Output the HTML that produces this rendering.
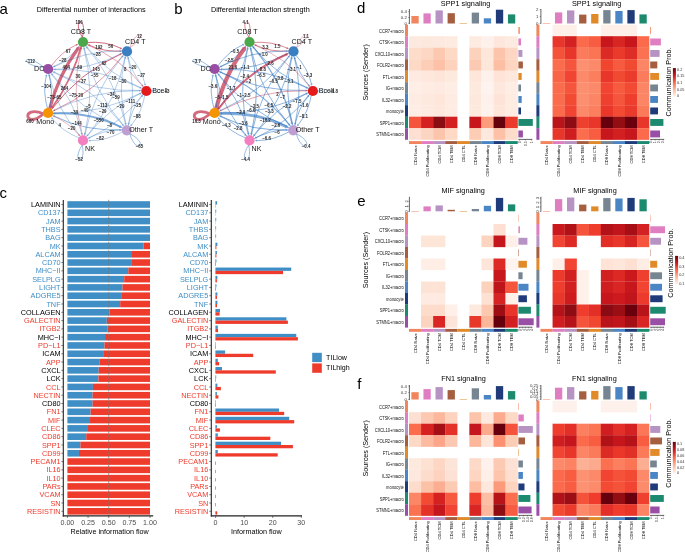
<!DOCTYPE html>
<html><head><meta charset="utf-8"><style>
html,body{margin:0;padding:0;background:#fff;width:685px;height:552px;overflow:hidden}
svg{display:block;font-family:"Liberation Sans", sans-serif;will-change:transform}
</style></head><body>
<svg width="685" height="552" viewBox="0 0 685 552">
<rect width="685" height="552" fill="#fff"/>
<text x="-0.50" y="13.60" font-size="15" fill="#000" text-anchor="start" >a</text>
<text x="174.20" y="13.60" font-size="15" fill="#000" text-anchor="start" >b</text>
<text x="-0.60" y="197.90" font-size="15" fill="#000" text-anchor="start" >c</text>
<text x="357.00" y="12.90" font-size="15" fill="#000" text-anchor="start" >d</text>
<text x="357.20" y="205.50" font-size="15" fill="#000" text-anchor="start" >e</text>
<text x="357.20" y="389.00" font-size="15" fill="#000" text-anchor="start" >f</text>
<path d="M85.5,42.5 Q106.2,41.0 120.6,48.2" fill="none" stroke="rgba(190,35,65,0.68)" stroke-width="1.0"/>
<path d="M122.2,49.0 L119.7,49.2 L120.9,46.9Z" fill="rgba(190,35,65,0.68)"/>
<path d="M85.0,43.6 Q121.1,58.3 142.1,85.5" fill="none" stroke="rgba(190,35,65,0.68)" stroke-width="0.6"/>
<path d="M143.1,86.7 L141.1,85.9 L142.8,84.6Z" fill="rgba(190,35,65,0.68)"/>
<path d="M84.1,44.3 Q116.4,80.5 125.4,123.5" fill="none" stroke="rgba(40,112,192,0.58)" stroke-width="0.6"/>
<path d="M125.7,125.0 L124.3,123.4 L126.4,123.0Z" fill="rgba(40,112,192,0.58)"/>
<path d="M83.0,44.5 Q95.8,91.2 84.8,133.7" fill="none" stroke="rgba(40,112,192,0.58)" stroke-width="0.6"/>
<path d="M84.4,135.2 L83.8,133.1 L85.9,133.6Z" fill="rgba(40,112,192,0.58)"/>
<path d="M81.9,44.3 Q71.9,80.7 52.5,106.9" fill="none" stroke="rgba(190,35,65,0.68)" stroke-width="1.7"/>
<path d="M51.2,108.7 L51.4,105.7 L54.0,107.6Z" fill="rgba(190,35,65,0.68)"/>
<path d="M81.0,43.6 Q69.1,60.0 54.5,66.3" fill="none" stroke="rgba(40,112,192,0.58)" stroke-width="0.6"/>
<path d="M53.1,66.9 L54.4,65.2 L55.2,67.1Z" fill="rgba(40,112,192,0.58)"/>
<path d="M124.5,50.9 Q103.8,52.4 89.4,45.2" fill="none" stroke="rgba(190,35,65,0.68)" stroke-width="0.9"/>
<path d="M87.8,44.4 L90.2,44.3 L89.1,46.4Z" fill="rgba(190,35,65,0.68)"/>
<path d="M128.1,53.7 Q141.8,68.7 145.0,84.2" fill="none" stroke="rgba(40,112,192,0.58)" stroke-width="0.6"/>
<path d="M145.3,85.7 L143.9,84.1 L146.0,83.7Z" fill="rgba(40,112,192,0.58)"/>
<path d="M127.0,53.9 Q137.2,90.9 128.6,123.6" fill="none" stroke="rgba(40,112,192,0.58)" stroke-width="0.6"/>
<path d="M128.2,125.1 L127.6,123.0 L129.7,123.6Z" fill="rgba(40,112,192,0.58)"/>
<path d="M125.9,53.7 Q116.6,101.6 87.6,135.1" fill="none" stroke="rgba(40,112,192,0.58)" stroke-width="0.6"/>
<path d="M86.5,136.3 L86.9,134.2 L88.6,135.6Z" fill="rgba(40,112,192,0.58)"/>
<path d="M125.0,53.0 Q95.5,92.5 54.4,110.2" fill="none" stroke="rgba(190,35,65,0.68)" stroke-width="0.7"/>
<path d="M53.0,110.9 L54.3,109.1 L55.2,111.1Z" fill="rgba(190,35,65,0.68)"/>
<path d="M124.5,52.0 Q89.8,70.5 55.1,69.2" fill="none" stroke="rgba(40,112,192,0.58)" stroke-width="0.6"/>
<path d="M53.5,69.2 L55.4,68.2 L55.3,70.3Z" fill="rgba(40,112,192,0.58)"/>
<path d="M144.4,89.4 Q108.3,74.7 87.3,47.5" fill="none" stroke="rgba(40,112,192,0.58)" stroke-width="0.6"/>
<path d="M86.3,46.3 L88.3,47.1 L86.6,48.4Z" fill="rgba(40,112,192,0.58)"/>
<path d="M145.3,88.7 Q131.6,73.7 128.4,58.2" fill="none" stroke="rgba(40,112,192,0.58)" stroke-width="0.6"/>
<path d="M128.1,56.7 L129.5,58.3 L127.4,58.7Z" fill="rgba(40,112,192,0.58)"/>
<path d="M145.3,93.3 Q141.7,113.2 131.4,125.1" fill="none" stroke="rgba(40,112,192,0.58)" stroke-width="0.6"/>
<path d="M130.3,126.2 L130.8,124.1 L132.4,125.5Z" fill="rgba(40,112,192,0.58)"/>
<path d="M144.4,92.6 Q121.1,123.9 89.4,137.6" fill="none" stroke="rgba(40,112,192,0.58)" stroke-width="0.6"/>
<path d="M88.0,138.3 L89.2,136.5 L90.1,138.5Z" fill="rgba(40,112,192,0.58)"/>
<path d="M143.9,91.6 Q100.1,114.8 55.0,113.2" fill="none" stroke="rgba(40,112,192,0.58)" stroke-width="0.6"/>
<path d="M53.4,113.2 L55.3,112.2 L55.2,114.3Z" fill="rgba(40,112,192,0.58)"/>
<path d="M143.9,90.4 Q94.4,92.8 54.3,72.2" fill="none" stroke="rgba(40,112,192,0.58)" stroke-width="0.6"/>
<path d="M52.9,71.5 L55.0,71.4 L54.1,73.3Z" fill="rgba(40,112,192,0.58)"/>
<path d="M125.7,128.0 Q93.4,91.8 84.4,48.8" fill="none" stroke="rgba(40,112,192,0.58)" stroke-width="0.6"/>
<path d="M84.1,47.3 L85.5,48.9 L83.4,49.3Z" fill="rgba(40,112,192,0.58)"/>
<path d="M126.8,127.8 Q116.6,90.8 125.2,58.1" fill="none" stroke="rgba(40,112,192,0.58)" stroke-width="0.6"/>
<path d="M125.6,56.6 L126.2,58.7 L124.1,58.1Z" fill="rgba(40,112,192,0.58)"/>
<path d="M127.9,128.0 Q131.5,108.1 141.8,96.2" fill="none" stroke="rgba(40,112,192,0.58)" stroke-width="0.6"/>
<path d="M142.9,95.1 L142.4,97.2 L140.8,95.8Z" fill="rgba(40,112,192,0.58)"/>
<path d="M124.3,130.9 Q106.2,141.0 90.0,140.6" fill="none" stroke="rgba(40,112,192,0.58)" stroke-width="0.6"/>
<path d="M88.4,140.5 L90.3,139.5 L90.2,141.7Z" fill="rgba(40,112,192,0.58)"/>
<path d="M124.3,129.8 Q85.2,131.9 54.4,116.2" fill="none" stroke="rgba(40,112,192,0.58)" stroke-width="0.9"/>
<path d="M52.8,115.4 L55.2,115.3 L54.1,117.4Z" fill="rgba(40,112,192,0.58)"/>
<path d="M124.8,128.7 Q79.5,109.9 52.3,74.5" fill="none" stroke="rgba(40,112,192,0.58)" stroke-width="0.6"/>
<path d="M51.4,73.3 L53.4,74.1 L51.7,75.4Z" fill="rgba(40,112,192,0.58)"/>
<path d="M83.0,137.8 Q70.2,91.2 81.3,48.7" fill="none" stroke="rgba(190,35,65,0.68)" stroke-width="0.5"/>
<path d="M81.6,47.2 L82.2,49.2 L80.2,48.7Z" fill="rgba(190,35,65,0.68)"/>
<path d="M84.1,138.1 Q93.4,90.2 122.4,56.7" fill="none" stroke="rgba(40,112,192,0.58)" stroke-width="0.6"/>
<path d="M123.5,55.5 L123.1,57.6 L121.4,56.2Z" fill="rgba(40,112,192,0.58)"/>
<path d="M85.0,138.8 Q108.3,107.5 140.0,93.8" fill="none" stroke="rgba(40,112,192,0.58)" stroke-width="0.6"/>
<path d="M141.4,93.1 L140.2,94.9 L139.3,92.9Z" fill="rgba(40,112,192,0.58)"/>
<path d="M85.5,139.8 Q103.6,129.7 119.8,130.1" fill="none" stroke="rgba(40,112,192,0.58)" stroke-width="0.6"/>
<path d="M121.4,130.2 L119.5,131.2 L119.6,129.0Z" fill="rgba(40,112,192,0.58)"/>
<path d="M81.0,138.8 Q61.9,131.2 52.2,118.5" fill="none" stroke="rgba(40,112,192,0.58)" stroke-width="0.6"/>
<path d="M51.3,117.3 L53.3,118.1 L51.6,119.4Z" fill="rgba(40,112,192,0.58)"/>
<path d="M81.9,138.1 Q56.3,109.2 49.5,75.8" fill="none" stroke="rgba(40,112,192,0.58)" stroke-width="0.6"/>
<path d="M49.2,74.3 L50.6,75.9 L48.5,76.3Z" fill="rgba(40,112,192,0.58)"/>
<path d="M49.1,110.7 Q58.8,74.2 77.9,48.8" fill="none" stroke="rgba(190,35,65,0.68)" stroke-width="3.1"/>
<path d="M79.8,46.3 L79.5,50.3 L76.0,47.7Z" fill="rgba(190,35,65,0.68)"/>
<path d="M50.0,111.4 Q79.5,71.9 120.4,54.3" fill="none" stroke="rgba(190,35,65,0.68)" stroke-width="1.0"/>
<path d="M122.0,53.5 L120.6,55.5 L119.6,53.2Z" fill="rgba(190,35,65,0.68)"/>
<path d="M50.5,112.4 Q94.3,89.2 139.4,90.8" fill="none" stroke="rgba(40,112,192,0.58)" stroke-width="0.6"/>
<path d="M141.0,90.8 L139.1,91.8 L139.2,89.7Z" fill="rgba(40,112,192,0.58)"/>
<path d="M50.5,113.5 Q89.6,111.4 120.0,126.8" fill="none" stroke="rgba(40,112,192,0.58)" stroke-width="1.8"/>
<path d="M122.0,127.9 L119.0,128.1 L120.4,125.2Z" fill="rgba(40,112,192,0.58)"/>
<path d="M50.0,114.6 Q69.1,122.2 78.8,134.9" fill="none" stroke="rgba(190,35,65,0.68)" stroke-width="0.5"/>
<path d="M79.7,136.1 L77.8,135.3 L79.4,134.1Z" fill="rgba(190,35,65,0.68)"/>
<path d="M48.0,110.5 Q42.3,91.0 46.3,75.9" fill="none" stroke="rgba(40,112,192,0.58)" stroke-width="0.9"/>
<path d="M46.7,74.2 L47.4,76.5 L45.0,75.9Z" fill="rgba(40,112,192,0.58)"/>
<path d="M50.1,67.4 Q62.0,51.0 76.5,44.8" fill="none" stroke="rgba(190,35,65,0.68)" stroke-width="0.7"/>
<path d="M78.0,44.1 L76.7,45.9 L75.8,43.9Z" fill="rgba(190,35,65,0.68)"/>
<path d="M50.6,68.4 Q85.3,49.9 120.0,51.2" fill="none" stroke="rgba(40,112,192,0.58)" stroke-width="0.6"/>
<path d="M121.6,51.2 L119.7,52.2 L119.8,50.1Z" fill="rgba(40,112,192,0.58)"/>
<path d="M50.6,69.6 Q100.1,67.2 140.2,87.8" fill="none" stroke="rgba(40,112,192,0.58)" stroke-width="0.6"/>
<path d="M141.6,88.5 L139.5,88.6 L140.4,86.7Z" fill="rgba(40,112,192,0.58)"/>
<path d="M50.1,70.6 Q95.4,89.4 122.6,124.8" fill="none" stroke="rgba(40,112,192,0.58)" stroke-width="0.6"/>
<path d="M123.5,126.0 L121.5,125.2 L123.2,123.9Z" fill="rgba(40,112,192,0.58)"/>
<path d="M49.2,71.3 Q74.8,100.2 81.6,133.6" fill="none" stroke="rgba(40,112,192,0.58)" stroke-width="0.6"/>
<path d="M81.9,135.1 L80.5,133.5 L82.6,133.1Z" fill="rgba(40,112,192,0.58)"/>
<path d="M48.1,71.5 Q53.8,91.0 49.8,106.1" fill="none" stroke="rgba(40,112,192,0.58)" stroke-width="0.9"/>
<path d="M49.4,107.8 L48.7,105.5 L51.1,106.1Z" fill="rgba(40,112,192,0.58)"/>
<path d="M82.4,37.4 C70.9,17.6 87.9,15.3 82.4,37.4" fill="none" stroke="rgba(190,35,65,0.68)" stroke-width="1.0"/>
<path d="M129.8,47.8 C137.7,26.2 148.9,34.9 129.8,47.8" fill="none" stroke="rgba(190,35,65,0.68)" stroke-width="0.5"/>
<path d="M43.5,113.8 C24.9,130.5 20.3,104.4 43.5,113.8" fill="none" stroke="rgba(190,35,65,0.68)" stroke-width="2.8"/>
<path d="M43.8,67.3 C17.6,65.0 23.4,50.7 43.8,67.3" fill="none" stroke="rgba(40,112,192,0.58)" stroke-width="0.8"/>
<path d="M151.0,91.0 C163.5,84.9 163.5,97.1 151.0,91.0" fill="none" stroke="rgba(40,112,192,0.58)" stroke-width="0.5"/>
<path d="M82.2,144.9 C86.8,166.6 70.5,163.7 82.2,144.9" fill="none" stroke="rgba(40,112,192,0.58)" stroke-width="0.8"/>
<path d="M129.8,133.8 C150.0,143.7 136.0,155.4 129.8,133.8" fill="none" stroke="rgba(40,112,192,0.58)" stroke-width="0.8"/>
<circle cx="83.0" cy="42.0" r="5.1" fill="#4aa84a"/>
<circle cx="127.0" cy="51.4" r="5.1" fill="#3a7fc1"/>
<circle cx="146.4" cy="91.0" r="5.1" fill="#e41a1c"/>
<circle cx="126.8" cy="130.3" r="5.1" fill="#bf9fd2"/>
<circle cx="83.0" cy="140.4" r="5.1" fill="#f37fc0"/>
<circle cx="48.0" cy="113.0" r="5.1" fill="#f39400"/>
<circle cx="48.1" cy="69.0" r="5.1" fill="#984ea3"/>
<text transform="translate(68.3,52.5) scale(0.9,1)" font-size="4.9" font-weight="bold" fill="#2a2a2a" text-anchor="middle">67</text>
<text transform="translate(62.7,62.1) scale(0.9,1)" font-size="4.9" font-weight="bold" fill="#2a2a2a" text-anchor="middle">−28</text>
<text transform="translate(66.3,68.5) scale(0.9,1)" font-size="4.9" font-weight="bold" fill="#2a2a2a" text-anchor="middle">404</text>
<text transform="translate(78.5,68.5) scale(0.9,1)" font-size="4.9" font-weight="bold" fill="#2a2a2a" text-anchor="middle">−69</text>
<text transform="translate(78.0,78.0) scale(0.9,1)" font-size="4.9" font-weight="bold" fill="#2a2a2a" text-anchor="middle">30</text>
<text transform="translate(82.1,83.2) scale(0.9,1)" font-size="4.9" font-weight="bold" fill="#2a2a2a" text-anchor="middle">−37</text>
<text transform="translate(46.3,87.8) scale(0.9,1)" font-size="4.9" font-weight="bold" fill="#2a2a2a" text-anchor="middle">−104</text>
<text transform="translate(64.5,90.0) scale(0.9,1)" font-size="4.9" font-weight="bold" fill="#2a2a2a" text-anchor="middle">264</text>
<text transform="translate(50.9,99.0) scale(0.9,1)" font-size="4.9" font-weight="bold" fill="#2a2a2a" text-anchor="middle">−73</text>
<text transform="translate(57.6,99.0) scale(0.9,1)" font-size="4.9" font-weight="bold" fill="#2a2a2a" text-anchor="middle">−65</text>
<text transform="translate(72.9,97.0) scale(0.9,1)" font-size="4.9" font-weight="bold" fill="#2a2a2a" text-anchor="middle">−75</text>
<text transform="translate(79.5,97.0) scale(0.9,1)" font-size="4.9" font-weight="bold" fill="#2a2a2a" text-anchor="middle">−20</text>
<text transform="translate(88.2,107.7) scale(0.9,1)" font-size="4.9" font-weight="bold" fill="#2a2a2a" text-anchor="middle">−5</text>
<text transform="translate(84.6,111.8) scale(0.9,1)" font-size="4.9" font-weight="bold" fill="#2a2a2a" text-anchor="middle">−40</text>
<text transform="translate(74.4,113.8) scale(0.9,1)" font-size="4.9" font-weight="bold" fill="#2a2a2a" text-anchor="middle">−30</text>
<text transform="translate(76.8,125.2) scale(0.9,1)" font-size="4.9" font-weight="bold" fill="#2a2a2a" text-anchor="middle">−144</text>
<text transform="translate(71.6,130.3) scale(0.9,1)" font-size="4.9" font-weight="bold" fill="#2a2a2a" text-anchor="middle">−20</text>
<text transform="translate(59.8,126.5) scale(0.9,1)" font-size="4.9" font-weight="bold" fill="#2a2a2a" text-anchor="middle">4</text>
<text transform="translate(98.9,49.0) scale(0.9,1)" font-size="4.9" font-weight="bold" fill="#2a2a2a" text-anchor="middle">192</text>
<text transform="translate(110.8,47.9) scale(0.9,1)" font-size="4.9" font-weight="bold" fill="#2a2a2a" text-anchor="middle">56</text>
<text transform="translate(96.9,56.0) scale(0.9,1)" font-size="4.9" font-weight="bold" fill="#2a2a2a" text-anchor="middle">−28</text>
<text transform="translate(104.1,65.2) scale(0.9,1)" font-size="4.9" font-weight="bold" fill="#2a2a2a" text-anchor="middle">62</text>
<text transform="translate(96.3,71.3) scale(0.9,1)" font-size="4.9" font-weight="bold" fill="#2a2a2a" text-anchor="middle">145</text>
<text transform="translate(94.6,77.0) scale(0.9,1)" font-size="4.9" font-weight="bold" fill="#2a2a2a" text-anchor="middle">−55</text>
<text transform="translate(125.2,71.3) scale(0.9,1)" font-size="4.9" font-weight="bold" fill="#2a2a2a" text-anchor="middle">8</text>
<text transform="translate(132.6,68.8) scale(0.9,1)" font-size="4.9" font-weight="bold" fill="#2a2a2a" text-anchor="middle">−20</text>
<text transform="translate(141.3,77.0) scale(0.9,1)" font-size="4.9" font-weight="bold" fill="#2a2a2a" text-anchor="middle">−27</text>
<text transform="translate(112.7,80.2) scale(0.9,1)" font-size="4.9" font-weight="bold" fill="#2a2a2a" text-anchor="middle">−18</text>
<text transform="translate(122.7,82.7) scale(0.9,1)" font-size="4.9" font-weight="bold" fill="#2a2a2a" text-anchor="middle">−30</text>
<text transform="translate(110.9,96.0) scale(0.9,1)" font-size="4.9" font-weight="bold" fill="#2a2a2a" text-anchor="middle">−34</text>
<text transform="translate(116.0,99.0) scale(0.9,1)" font-size="4.9" font-weight="bold" fill="#2a2a2a" text-anchor="middle">−59</text>
<text transform="translate(130.5,103.2) scale(0.9,1)" font-size="4.9" font-weight="bold" fill="#2a2a2a" text-anchor="middle">−111</text>
<text transform="translate(137.5,107.2) scale(0.9,1)" font-size="4.9" font-weight="bold" fill="#2a2a2a" text-anchor="middle">−25</text>
<text transform="translate(102.3,107.2) scale(0.9,1)" font-size="4.9" font-weight="bold" fill="#2a2a2a" text-anchor="middle">−113</text>
<text transform="translate(120.6,108.0) scale(0.9,1)" font-size="4.9" font-weight="bold" fill="#2a2a2a" text-anchor="middle">−29</text>
<text transform="translate(102.8,113.3) scale(0.9,1)" font-size="4.9" font-weight="bold" fill="#2a2a2a" text-anchor="middle">−29</text>
<text transform="translate(98.7,122.0) scale(0.9,1)" font-size="4.9" font-weight="bold" fill="#2a2a2a" text-anchor="middle">−550</text>
<text transform="translate(109.4,127.2) scale(0.9,1)" font-size="4.9" font-weight="bold" fill="#2a2a2a" text-anchor="middle">−8</text>
<text transform="translate(110.6,133.8) scale(0.9,1)" font-size="4.9" font-weight="bold" fill="#2a2a2a" text-anchor="middle">−70</text>
<text transform="translate(100.1,140.4) scale(0.9,1)" font-size="4.9" font-weight="bold" fill="#2a2a2a" text-anchor="middle">−82</text>
<text transform="translate(137.0,118.3) scale(0.9,1)" font-size="4.9" font-weight="bold" fill="#2a2a2a" text-anchor="middle">−88</text>
<text transform="translate(79.1,24.1) scale(0.9,1)" font-size="4.9" font-weight="bold" fill="#2a2a2a" text-anchor="middle">186</text>
<text transform="translate(139.5,37.8) scale(0.9,1)" font-size="4.9" font-weight="bold" fill="#2a2a2a" text-anchor="middle">12</text>
<text transform="translate(30.1,62.5) scale(0.9,1)" font-size="4.9" font-weight="bold" fill="#2a2a2a" text-anchor="middle">−112</text>
<text transform="translate(30.0,123.2) scale(0.9,1)" font-size="4.9" font-weight="bold" fill="#2a2a2a" text-anchor="middle">660</text>
<text transform="translate(79.1,161.4) scale(0.9,1)" font-size="4.9" font-weight="bold" fill="#2a2a2a" text-anchor="middle">−52</text>
<text transform="translate(139.5,148.1) scale(0.9,1)" font-size="4.9" font-weight="bold" fill="#2a2a2a" text-anchor="middle">−65</text>
<text transform="translate(167.0,93.0) scale(0.9,1)" font-size="4.9" font-weight="bold" fill="#2a2a2a" text-anchor="middle">−3</text>
<text transform="translate(81.0,34.2) scale(0.89,1)" font-size="8" fill="#111" text-anchor="middle">CD8 T</text>
<text transform="translate(125.1,43.9) scale(0.89,1)" font-size="8" fill="#111" text-anchor="start">CD4 T</text>
<text transform="translate(34.1,71.3) scale(0.89,1)" font-size="8" fill="#111" text-anchor="start">DC</text>
<text transform="translate(152.2,93.4) scale(0.89,1)" font-size="8" fill="#111" text-anchor="start">Bcell</text>
<text transform="translate(36.3,123.9) scale(0.89,1)" font-size="8" fill="#111" text-anchor="start">Mono</text>
<text transform="translate(85.0,151.2) scale(0.89,1)" font-size="8" fill="#111" text-anchor="start">NK</text>
<text transform="translate(129.2,132.4) scale(0.89,1)" font-size="8" fill="#111" text-anchor="start">Other T</text>
<text x="91.2" y="12.1" font-size="7.3" fill="#000" text-anchor="middle">Differential number of interactions</text>
<path d="M252.0,42.5 Q272.7,41.0 287.2,48.2" fill="none" stroke="rgba(190,35,65,0.68)" stroke-width="0.8"/>
<path d="M288.7,49.0 L286.4,49.1 L287.4,47.1Z" fill="rgba(190,35,65,0.68)"/>
<path d="M251.5,43.6 Q287.6,58.3 308.7,85.5" fill="none" stroke="rgba(190,35,65,0.68)" stroke-width="0.5"/>
<path d="M309.6,86.7 L307.7,85.9 L309.3,84.7Z" fill="rgba(190,35,65,0.68)"/>
<path d="M250.6,44.3 Q282.9,80.5 291.8,123.1" fill="none" stroke="rgba(40,112,192,0.58)" stroke-width="1.3"/>
<path d="M292.2,125.0 L290.4,123.1 L293.1,122.5Z" fill="rgba(40,112,192,0.58)"/>
<path d="M249.5,44.5 Q262.3,91.2 251.3,133.4" fill="none" stroke="rgba(40,112,192,0.58)" stroke-width="1.0"/>
<path d="M250.9,135.2 L250.2,132.8 L252.6,133.5Z" fill="rgba(40,112,192,0.58)"/>
<path d="M248.4,44.3 Q241.2,82.0 219.1,107.6" fill="none" stroke="rgba(40,112,192,0.58)" stroke-width="0.8"/>
<path d="M218.0,108.9 L218.4,106.7 L220.2,108.2Z" fill="rgba(40,112,192,0.58)"/>
<path d="M247.5,43.6 Q235.6,60.0 221.2,66.2" fill="none" stroke="rgba(40,112,192,0.58)" stroke-width="0.9"/>
<path d="M219.6,66.9 L221.0,65.0 L221.9,67.2Z" fill="rgba(40,112,192,0.58)"/>
<path d="M291.0,50.9 Q270.3,52.4 255.8,45.2" fill="none" stroke="rgba(190,35,65,0.68)" stroke-width="0.8"/>
<path d="M254.3,44.4 L256.6,44.3 L255.6,46.3Z" fill="rgba(190,35,65,0.68)"/>
<path d="M294.6,53.7 Q308.3,68.7 311.5,84.0" fill="none" stroke="rgba(40,112,192,0.58)" stroke-width="0.9"/>
<path d="M311.8,85.7 L310.2,84.0 L312.6,83.5Z" fill="rgba(40,112,192,0.58)"/>
<path d="M293.5,53.9 Q303.7,90.9 295.1,123.4" fill="none" stroke="rgba(40,112,192,0.58)" stroke-width="0.9"/>
<path d="M294.7,125.1 L294.0,122.8 L296.4,123.4Z" fill="rgba(40,112,192,0.58)"/>
<path d="M292.4,53.7 Q283.1,101.6 254.2,135.0" fill="none" stroke="rgba(40,112,192,0.58)" stroke-width="0.9"/>
<path d="M253.0,136.3 L253.5,134.0 L255.3,135.6Z" fill="rgba(40,112,192,0.58)"/>
<path d="M291.5,53.0 Q262.0,92.5 221.0,110.2" fill="none" stroke="rgba(40,112,192,0.58)" stroke-width="0.8"/>
<path d="M219.5,110.9 L220.8,109.0 L221.7,111.1Z" fill="rgba(40,112,192,0.58)"/>
<path d="M291.0,52.0 Q256.3,70.5 221.7,69.2" fill="none" stroke="rgba(40,112,192,0.58)" stroke-width="0.9"/>
<path d="M220.0,69.2 L222.1,68.1 L222.0,70.5Z" fill="rgba(40,112,192,0.58)"/>
<path d="M310.9,89.4 Q274.8,74.7 253.9,47.6" fill="none" stroke="rgba(40,112,192,0.58)" stroke-width="0.9"/>
<path d="M252.8,46.3 L255.0,47.1 L253.1,48.6Z" fill="rgba(40,112,192,0.58)"/>
<path d="M311.8,88.7 Q298.1,73.7 294.9,58.4" fill="none" stroke="rgba(40,112,192,0.58)" stroke-width="0.9"/>
<path d="M294.6,56.7 L296.2,58.4 L293.8,58.9Z" fill="rgba(40,112,192,0.58)"/>
<path d="M311.8,93.3 Q308.2,113.2 298.0,124.9" fill="none" stroke="rgba(40,112,192,0.58)" stroke-width="0.9"/>
<path d="M296.8,126.2 L297.3,123.9 L299.1,125.5Z" fill="rgba(40,112,192,0.58)"/>
<path d="M310.9,92.6 Q287.6,123.9 256.1,137.6" fill="none" stroke="rgba(40,112,192,0.58)" stroke-width="0.9"/>
<path d="M254.5,138.3 L255.9,136.3 L256.8,138.6Z" fill="rgba(40,112,192,0.58)"/>
<path d="M310.4,91.6 Q266.6,114.8 221.6,113.2" fill="none" stroke="rgba(40,112,192,0.58)" stroke-width="0.9"/>
<path d="M219.9,113.2 L222.0,112.1 L221.9,114.5Z" fill="rgba(40,112,192,0.58)"/>
<path d="M310.4,90.4 Q260.9,92.8 221.0,72.3" fill="none" stroke="rgba(40,112,192,0.58)" stroke-width="0.9"/>
<path d="M219.4,71.5 L221.8,71.3 L220.7,73.5Z" fill="rgba(40,112,192,0.58)"/>
<path d="M292.2,128.0 Q259.9,91.8 251.0,49.0" fill="none" stroke="rgba(40,112,192,0.58)" stroke-width="0.9"/>
<path d="M250.6,47.3 L252.2,49.0 L249.8,49.5Z" fill="rgba(40,112,192,0.58)"/>
<path d="M293.3,127.8 Q283.1,90.8 291.7,58.3" fill="none" stroke="rgba(40,112,192,0.58)" stroke-width="0.9"/>
<path d="M292.1,56.6 L292.8,58.9 L290.4,58.3Z" fill="rgba(40,112,192,0.58)"/>
<path d="M294.4,128.0 Q298.0,108.1 308.2,96.4" fill="none" stroke="rgba(40,112,192,0.58)" stroke-width="0.9"/>
<path d="M309.4,95.1 L308.9,97.4 L307.1,95.8Z" fill="rgba(40,112,192,0.58)"/>
<path d="M290.8,130.9 Q272.7,141.0 256.6,140.6" fill="none" stroke="rgba(40,112,192,0.58)" stroke-width="0.9"/>
<path d="M254.9,140.5 L257.0,139.4 L256.9,141.8Z" fill="rgba(40,112,192,0.58)"/>
<path d="M290.8,129.8 Q251.7,131.9 220.9,116.3" fill="none" stroke="rgba(40,112,192,0.58)" stroke-width="1.0"/>
<path d="M219.3,115.4 L221.8,115.3 L220.6,117.5Z" fill="rgba(40,112,192,0.58)"/>
<path d="M291.3,128.7 Q246.0,109.9 218.9,74.7" fill="none" stroke="rgba(40,112,192,0.58)" stroke-width="0.9"/>
<path d="M217.9,73.3 L220.1,74.2 L218.2,75.6Z" fill="rgba(40,112,192,0.58)"/>
<path d="M249.5,137.8 Q236.7,91.2 247.7,48.9" fill="none" stroke="rgba(40,112,192,0.58)" stroke-width="0.9"/>
<path d="M248.1,47.2 L248.8,49.5 L246.5,48.9Z" fill="rgba(40,112,192,0.58)"/>
<path d="M250.6,138.1 Q259.9,90.2 288.8,56.8" fill="none" stroke="rgba(40,112,192,0.58)" stroke-width="0.9"/>
<path d="M290.0,55.5 L289.5,57.8 L287.7,56.2Z" fill="rgba(40,112,192,0.58)"/>
<path d="M251.5,138.8 Q274.8,107.5 306.3,93.8" fill="none" stroke="rgba(40,112,192,0.58)" stroke-width="0.9"/>
<path d="M307.9,93.1 L306.5,95.1 L305.6,92.8Z" fill="rgba(40,112,192,0.58)"/>
<path d="M252.0,139.8 Q270.1,129.7 286.2,130.1" fill="none" stroke="rgba(40,112,192,0.58)" stroke-width="0.9"/>
<path d="M287.9,130.2 L285.8,131.3 L285.9,128.9Z" fill="rgba(40,112,192,0.58)"/>
<path d="M247.5,138.8 Q228.4,131.2 218.8,118.7" fill="none" stroke="rgba(40,112,192,0.58)" stroke-width="0.9"/>
<path d="M217.8,117.3 L220.0,118.2 L218.1,119.6Z" fill="rgba(40,112,192,0.58)"/>
<path d="M248.4,138.1 Q222.8,109.2 216.0,76.0" fill="none" stroke="rgba(40,112,192,0.58)" stroke-width="0.9"/>
<path d="M215.7,74.3 L217.3,76.1 L214.9,76.5Z" fill="rgba(40,112,192,0.58)"/>
<path d="M215.6,110.7 Q224.9,74.0 243.9,49.2" fill="none" stroke="rgba(190,35,65,0.68)" stroke-width="4.2"/>
<path d="M246.2,46.3 L245.9,51.1 L241.6,47.8Z" fill="rgba(190,35,65,0.68)"/>
<path d="M216.5,111.4 Q246.0,71.9 286.3,54.5" fill="none" stroke="rgba(190,35,65,0.68)" stroke-width="2.0"/>
<path d="M288.5,53.5 L286.7,56.2 L285.4,53.1Z" fill="rgba(190,35,65,0.68)"/>
<path d="M217.0,112.4 Q260.8,89.2 305.9,90.8" fill="none" stroke="rgba(190,35,65,0.68)" stroke-width="0.6"/>
<path d="M307.5,90.8 L305.6,91.8 L305.7,89.7Z" fill="rgba(190,35,65,0.68)"/>
<path d="M217.0,113.5 Q256.1,111.4 285.9,126.5" fill="none" stroke="rgba(40,112,192,0.58)" stroke-width="2.8"/>
<path d="M288.5,127.9 L284.7,128.2 L286.6,124.6Z" fill="rgba(40,112,192,0.58)"/>
<path d="M216.5,114.6 Q235.6,122.2 245.2,134.7" fill="none" stroke="rgba(40,112,192,0.58)" stroke-width="0.9"/>
<path d="M246.2,136.1 L244.0,135.2 L245.9,133.8Z" fill="rgba(40,112,192,0.58)"/>
<path d="M214.5,110.5 Q208.8,91.0 212.8,75.9" fill="none" stroke="rgba(40,112,192,0.58)" stroke-width="0.9"/>
<path d="M213.2,74.2 L213.9,76.5 L211.5,75.9Z" fill="rgba(40,112,192,0.58)"/>
<path d="M216.6,67.4 Q228.5,51.0 242.9,44.8" fill="none" stroke="rgba(40,112,192,0.58)" stroke-width="0.9"/>
<path d="M244.5,44.1 L243.1,46.0 L242.2,43.8Z" fill="rgba(40,112,192,0.58)"/>
<path d="M217.1,68.4 Q251.8,49.9 286.4,51.2" fill="none" stroke="rgba(40,112,192,0.58)" stroke-width="0.9"/>
<path d="M288.1,51.2 L286.0,52.3 L286.1,49.9Z" fill="rgba(40,112,192,0.58)"/>
<path d="M217.1,69.6 Q266.6,67.2 306.5,87.7" fill="none" stroke="rgba(40,112,192,0.58)" stroke-width="0.9"/>
<path d="M308.1,88.5 L305.7,88.7 L306.8,86.5Z" fill="rgba(40,112,192,0.58)"/>
<path d="M216.6,70.6 Q261.9,89.4 288.9,124.5" fill="none" stroke="rgba(40,112,192,0.58)" stroke-width="1.1"/>
<path d="M290.0,126.0 L287.7,125.1 L289.7,123.5Z" fill="rgba(40,112,192,0.58)"/>
<path d="M215.7,71.3 Q241.3,100.2 248.1,133.4" fill="none" stroke="rgba(40,112,192,0.58)" stroke-width="0.9"/>
<path d="M248.4,135.1 L246.8,133.3 L249.2,132.9Z" fill="rgba(40,112,192,0.58)"/>
<path d="M214.6,71.5 Q220.3,91.0 216.3,106.1" fill="none" stroke="rgba(40,112,192,0.58)" stroke-width="0.9"/>
<path d="M215.9,107.8 L215.2,105.5 L217.6,106.1Z" fill="rgba(40,112,192,0.58)"/>
<path d="M248.9,37.4 C237.4,17.6 254.4,15.3 248.9,37.4" fill="none" stroke="rgba(190,35,65,0.68)" stroke-width="0.8"/>
<path d="M296.3,47.8 C304.2,26.2 315.4,34.9 296.3,47.8" fill="none" stroke="rgba(190,35,65,0.68)" stroke-width="0.5"/>
<path d="M210.0,113.8 C191.4,130.5 186.8,104.4 210.0,113.8" fill="none" stroke="rgba(190,35,65,0.68)" stroke-width="2.8"/>
<path d="M210.3,67.3 C184.1,65.0 189.9,50.7 210.3,67.3" fill="none" stroke="rgba(40,112,192,0.58)" stroke-width="0.8"/>
<path d="M317.5,91.0 C330.0,84.9 330.0,97.1 317.5,91.0" fill="none" stroke="rgba(40,112,192,0.58)" stroke-width="0.5"/>
<path d="M248.7,144.9 C253.3,166.6 237.0,163.7 248.7,144.9" fill="none" stroke="rgba(40,112,192,0.58)" stroke-width="0.8"/>
<path d="M296.3,133.8 C316.5,143.7 302.5,155.4 296.3,133.8" fill="none" stroke="rgba(40,112,192,0.58)" stroke-width="0.8"/>
<circle cx="249.5" cy="42.0" r="5.1" fill="#4aa84a"/>
<circle cx="293.5" cy="51.4" r="5.1" fill="#3a7fc1"/>
<circle cx="312.9" cy="91.0" r="5.1" fill="#e41a1c"/>
<circle cx="293.3" cy="130.3" r="5.1" fill="#bf9fd2"/>
<circle cx="249.5" cy="140.4" r="5.1" fill="#f37fc0"/>
<circle cx="214.5" cy="113.0" r="5.1" fill="#f39400"/>
<circle cx="214.6" cy="69.0" r="5.1" fill="#984ea3"/>
<text transform="translate(234.8,52.5) scale(0.9,1)" font-size="4.9" font-weight="bold" fill="#2a2a2a" text-anchor="middle">−0.5</text>
<text transform="translate(229.2,62.1) scale(0.9,1)" font-size="4.9" font-weight="bold" fill="#2a2a2a" text-anchor="middle">−2.5</text>
<text transform="translate(232.8,68.5) scale(0.9,1)" font-size="4.9" font-weight="bold" fill="#2a2a2a" text-anchor="middle">21.6</text>
<text transform="translate(245.0,68.5) scale(0.9,1)" font-size="4.9" font-weight="bold" fill="#2a2a2a" text-anchor="middle">−1.1</text>
<text transform="translate(244.5,78.0) scale(0.9,1)" font-size="4.9" font-weight="bold" fill="#2a2a2a" text-anchor="middle">−2.4</text>
<text transform="translate(248.6,83.2) scale(0.9,1)" font-size="4.9" font-weight="bold" fill="#2a2a2a" text-anchor="middle">−2</text>
<text transform="translate(212.8,87.8) scale(0.9,1)" font-size="4.9" font-weight="bold" fill="#2a2a2a" text-anchor="middle">−3.6</text>
<text transform="translate(231.0,90.0) scale(0.9,1)" font-size="4.9" font-weight="bold" fill="#2a2a2a" text-anchor="middle">−1.7</text>
<text transform="translate(217.4,99.0) scale(0.9,1)" font-size="4.9" font-weight="bold" fill="#2a2a2a" text-anchor="middle">−5</text>
<text transform="translate(224.1,99.0) scale(0.9,1)" font-size="4.9" font-weight="bold" fill="#2a2a2a" text-anchor="middle">−1.5</text>
<text transform="translate(239.4,97.0) scale(0.9,1)" font-size="4.9" font-weight="bold" fill="#2a2a2a" text-anchor="middle">−1</text>
<text transform="translate(246.0,97.0) scale(0.9,1)" font-size="4.9" font-weight="bold" fill="#2a2a2a" text-anchor="middle">−2.5</text>
<text transform="translate(254.7,107.7) scale(0.9,1)" font-size="4.9" font-weight="bold" fill="#2a2a2a" text-anchor="middle">−2.5</text>
<text transform="translate(251.1,111.8) scale(0.9,1)" font-size="4.9" font-weight="bold" fill="#2a2a2a" text-anchor="middle">−6.6</text>
<text transform="translate(240.9,113.8) scale(0.9,1)" font-size="4.9" font-weight="bold" fill="#2a2a2a" text-anchor="middle">−2.0</text>
<text transform="translate(243.3,125.2) scale(0.9,1)" font-size="4.9" font-weight="bold" fill="#2a2a2a" text-anchor="middle">−3.6</text>
<text transform="translate(238.1,130.3) scale(0.9,1)" font-size="4.9" font-weight="bold" fill="#2a2a2a" text-anchor="middle">−2.8</text>
<text transform="translate(226.3,126.5) scale(0.9,1)" font-size="4.9" font-weight="bold" fill="#2a2a2a" text-anchor="middle">−4.3</text>
<text transform="translate(265.4,49.0) scale(0.9,1)" font-size="4.9" font-weight="bold" fill="#2a2a2a" text-anchor="middle">3.3</text>
<text transform="translate(277.3,47.9) scale(0.9,1)" font-size="4.9" font-weight="bold" fill="#2a2a2a" text-anchor="middle">1.5</text>
<text transform="translate(263.4,56.0) scale(0.9,1)" font-size="4.9" font-weight="bold" fill="#2a2a2a" text-anchor="middle">−1.0</text>
<text transform="translate(270.6,65.2) scale(0.9,1)" font-size="4.9" font-weight="bold" fill="#2a2a2a" text-anchor="middle">2.6</text>
<text transform="translate(262.8,71.3) scale(0.9,1)" font-size="4.9" font-weight="bold" fill="#2a2a2a" text-anchor="middle">8.8</text>
<text transform="translate(261.1,77.0) scale(0.9,1)" font-size="4.9" font-weight="bold" fill="#2a2a2a" text-anchor="middle">−6.5</text>
<text transform="translate(291.7,71.3) scale(0.9,1)" font-size="4.9" font-weight="bold" fill="#2a2a2a" text-anchor="middle">−3.1</text>
<text transform="translate(299.1,68.8) scale(0.9,1)" font-size="4.9" font-weight="bold" fill="#2a2a2a" text-anchor="middle">−1</text>
<text transform="translate(307.8,77.0) scale(0.9,1)" font-size="4.9" font-weight="bold" fill="#2a2a2a" text-anchor="middle">−3.3</text>
<text transform="translate(279.2,80.2) scale(0.9,1)" font-size="4.9" font-weight="bold" fill="#2a2a2a" text-anchor="middle">−0.8</text>
<text transform="translate(289.2,82.7) scale(0.9,1)" font-size="4.9" font-weight="bold" fill="#2a2a2a" text-anchor="middle">−0.1</text>
<text transform="translate(277.4,96.0) scale(0.9,1)" font-size="4.9" font-weight="bold" fill="#2a2a2a" text-anchor="middle">2</text>
<text transform="translate(282.5,99.0) scale(0.9,1)" font-size="4.9" font-weight="bold" fill="#2a2a2a" text-anchor="middle">−7</text>
<text transform="translate(297.0,103.2) scale(0.9,1)" font-size="4.9" font-weight="bold" fill="#2a2a2a" text-anchor="middle">−7.5</text>
<text transform="translate(304.0,107.2) scale(0.9,1)" font-size="4.9" font-weight="bold" fill="#2a2a2a" text-anchor="middle">−1.6</text>
<text transform="translate(268.8,107.2) scale(0.9,1)" font-size="4.9" font-weight="bold" fill="#2a2a2a" text-anchor="middle">−6.5</text>
<text transform="translate(287.1,108.0) scale(0.9,1)" font-size="4.9" font-weight="bold" fill="#2a2a2a" text-anchor="middle">−2.2</text>
<text transform="translate(269.3,113.3) scale(0.9,1)" font-size="4.9" font-weight="bold" fill="#2a2a2a" text-anchor="middle">−3.3</text>
<text transform="translate(265.2,122.0) scale(0.9,1)" font-size="4.9" font-weight="bold" fill="#2a2a2a" text-anchor="middle">−10.2</text>
<text transform="translate(275.9,127.2) scale(0.9,1)" font-size="4.9" font-weight="bold" fill="#2a2a2a" text-anchor="middle">−2.6</text>
<text transform="translate(277.1,133.8) scale(0.9,1)" font-size="4.9" font-weight="bold" fill="#2a2a2a" text-anchor="middle">−6</text>
<text transform="translate(266.6,140.4) scale(0.9,1)" font-size="4.9" font-weight="bold" fill="#2a2a2a" text-anchor="middle">−6.6</text>
<text transform="translate(303.5,118.3) scale(0.9,1)" font-size="4.9" font-weight="bold" fill="#2a2a2a" text-anchor="middle">−8.1</text>
<text transform="translate(245.6,24.1) scale(0.9,1)" font-size="4.9" font-weight="bold" fill="#2a2a2a" text-anchor="middle">4.1</text>
<text transform="translate(306.0,37.8) scale(0.9,1)" font-size="4.9" font-weight="bold" fill="#2a2a2a" text-anchor="middle">1.1</text>
<text transform="translate(196.6,62.5) scale(0.9,1)" font-size="4.9" font-weight="bold" fill="#2a2a2a" text-anchor="middle">−3.7</text>
<text transform="translate(196.5,123.2) scale(0.9,1)" font-size="4.9" font-weight="bold" fill="#2a2a2a" text-anchor="middle">16.3</text>
<text transform="translate(245.6,161.4) scale(0.9,1)" font-size="4.9" font-weight="bold" fill="#2a2a2a" text-anchor="middle">−4.4</text>
<text transform="translate(306.0,148.1) scale(0.9,1)" font-size="4.9" font-weight="bold" fill="#2a2a2a" text-anchor="middle">−0.4</text>
<text transform="translate(333.5,93.0) scale(0.9,1)" font-size="4.9" font-weight="bold" fill="#2a2a2a" text-anchor="middle">−0.8</text>
<text transform="translate(273.6,82.7) scale(0.9,1)" font-size="4.9" font-weight="bold" fill="#2a2a2a" text-anchor="middle">−0.5</text>
<text transform="translate(247.5,34.2) scale(0.89,1)" font-size="8" fill="#111" text-anchor="middle">CD8 T</text>
<text transform="translate(291.6,43.9) scale(0.89,1)" font-size="8" fill="#111" text-anchor="start">CD4 T</text>
<text transform="translate(200.6,71.3) scale(0.89,1)" font-size="8" fill="#111" text-anchor="start">DC</text>
<text transform="translate(318.7,93.4) scale(0.89,1)" font-size="8" fill="#111" text-anchor="start">Bcell</text>
<text transform="translate(202.8,123.9) scale(0.89,1)" font-size="8" fill="#111" text-anchor="start">Mono</text>
<text transform="translate(251.5,151.2) scale(0.89,1)" font-size="8" fill="#111" text-anchor="start">NK</text>
<text transform="translate(295.7,132.4) scale(0.89,1)" font-size="8" fill="#111" text-anchor="start">Other T</text>
<text x="260.3" y="12.1" font-size="7.3" fill="#000" text-anchor="middle">Differential interaction strength</text>
<rect x="67.40" y="201.20" width="82.60" height="6.60" fill="#3f8ec5" />
<text x="60.60" y="207.10" font-size="7.3" fill="#000" text-anchor="end" >LAMININ</text>
<line x1="61.30" y1="204.50" x2="63.20" y2="204.50" stroke="#333" stroke-width="0.6" />
<rect x="215.40" y="201.20" width="1.70" height="3.30" fill="#3f8ec5" />
<rect x="215.40" y="204.50" width="0.30" height="3.30" fill="#ee3b2c" />
<text x="208.30" y="207.10" font-size="7.3" fill="#000" text-anchor="end" >LAMININ</text>
<line x1="209.20" y1="204.50" x2="211.20" y2="204.50" stroke="#333" stroke-width="0.6" />
<rect x="67.40" y="209.49" width="82.60" height="6.60" fill="#3f8ec5" />
<text x="60.60" y="215.39" font-size="7.3" fill="#3f8ec5" text-anchor="end" >CD137</text>
<line x1="61.30" y1="212.79" x2="63.20" y2="212.79" stroke="#333" stroke-width="0.6" />
<rect x="215.40" y="209.49" width="0.80" height="3.30" fill="#3f8ec5" />
<rect x="215.40" y="212.79" width="0.20" height="3.30" fill="#ee3b2c" />
<text x="208.30" y="215.39" font-size="7.3" fill="#3f8ec5" text-anchor="end" >CD137</text>
<line x1="209.20" y1="212.79" x2="211.20" y2="212.79" stroke="#333" stroke-width="0.6" />
<rect x="67.40" y="217.78" width="82.60" height="6.60" fill="#3f8ec5" />
<text x="60.60" y="223.68" font-size="7.3" fill="#3f8ec5" text-anchor="end" >JAM</text>
<line x1="61.30" y1="221.08" x2="63.20" y2="221.08" stroke="#333" stroke-width="0.6" />
<rect x="215.40" y="217.78" width="0.80" height="3.30" fill="#3f8ec5" />
<rect x="215.40" y="221.08" width="0.20" height="3.30" fill="#ee3b2c" />
<text x="208.30" y="223.68" font-size="7.3" fill="#3f8ec5" text-anchor="end" >JAM</text>
<line x1="209.20" y1="221.08" x2="211.20" y2="221.08" stroke="#333" stroke-width="0.6" />
<rect x="67.40" y="226.08" width="82.60" height="6.60" fill="#3f8ec5" />
<text x="60.60" y="231.98" font-size="7.3" fill="#3f8ec5" text-anchor="end" >THBS</text>
<line x1="61.30" y1="229.38" x2="63.20" y2="229.38" stroke="#333" stroke-width="0.6" />
<rect x="215.40" y="226.08" width="0.70" height="3.30" fill="#3f8ec5" />
<rect x="215.40" y="229.38" width="0.20" height="3.30" fill="#ee3b2c" />
<text x="208.30" y="231.98" font-size="7.3" fill="#3f8ec5" text-anchor="end" >THBS</text>
<line x1="209.20" y1="229.38" x2="211.20" y2="229.38" stroke="#333" stroke-width="0.6" />
<rect x="67.40" y="234.37" width="82.60" height="6.60" fill="#3f8ec5" />
<text x="60.60" y="240.27" font-size="7.3" fill="#3f8ec5" text-anchor="end" >BAG</text>
<line x1="61.30" y1="237.67" x2="63.20" y2="237.67" stroke="#333" stroke-width="0.6" />
<rect x="215.40" y="234.37" width="0.70" height="3.30" fill="#3f8ec5" />
<rect x="215.40" y="237.67" width="0.10" height="3.30" fill="#ee3b2c" />
<text x="208.30" y="240.27" font-size="7.3" fill="#3f8ec5" text-anchor="end" >BAG</text>
<line x1="209.20" y1="237.67" x2="211.20" y2="237.67" stroke="#333" stroke-width="0.6" />
<rect x="67.40" y="242.66" width="76.24" height="6.60" fill="#3f8ec5" />
<rect x="143.64" y="242.66" width="6.36" height="6.60" fill="#ee3b2c" />
<text x="60.60" y="248.56" font-size="7.3" fill="#3f8ec5" text-anchor="end" >MK</text>
<line x1="61.30" y1="245.96" x2="63.20" y2="245.96" stroke="#333" stroke-width="0.6" />
<rect x="215.40" y="242.66" width="2.00" height="3.30" fill="#3f8ec5" />
<rect x="215.40" y="245.96" width="1.00" height="3.30" fill="#ee3b2c" />
<text x="208.30" y="248.56" font-size="7.3" fill="#3f8ec5" text-anchor="end" >MK</text>
<line x1="209.20" y1="245.96" x2="211.20" y2="245.96" stroke="#333" stroke-width="0.6" />
<rect x="67.40" y="250.95" width="64.59" height="6.60" fill="#3f8ec5" />
<rect x="131.99" y="250.95" width="18.01" height="6.60" fill="#ee3b2c" />
<text x="60.60" y="256.85" font-size="7.3" fill="#3f8ec5" text-anchor="end" >ALCAM</text>
<line x1="61.30" y1="254.25" x2="63.20" y2="254.25" stroke="#333" stroke-width="0.6" />
<rect x="215.40" y="250.95" width="1.50" height="3.30" fill="#3f8ec5" />
<rect x="215.40" y="254.25" width="1.00" height="3.30" fill="#ee3b2c" />
<text x="208.30" y="256.85" font-size="7.3" fill="#3f8ec5" text-anchor="end" >ALCAM</text>
<line x1="209.20" y1="254.25" x2="211.20" y2="254.25" stroke="#333" stroke-width="0.6" />
<rect x="67.40" y="259.24" width="63.77" height="6.60" fill="#3f8ec5" />
<rect x="131.17" y="259.24" width="18.83" height="6.60" fill="#ee3b2c" />
<text x="60.60" y="265.14" font-size="7.3" fill="#3f8ec5" text-anchor="end" >CD70</text>
<line x1="61.30" y1="262.54" x2="63.20" y2="262.54" stroke="#333" stroke-width="0.6" />
<rect x="215.40" y="259.24" width="1.00" height="3.30" fill="#3f8ec5" />
<rect x="215.40" y="262.54" width="0.60" height="3.30" fill="#ee3b2c" />
<text x="208.30" y="265.14" font-size="7.3" fill="#3f8ec5" text-anchor="end" >CD70</text>
<line x1="209.20" y1="262.54" x2="211.20" y2="262.54" stroke="#333" stroke-width="0.6" />
<rect x="67.40" y="267.54" width="60.88" height="6.60" fill="#3f8ec5" />
<rect x="128.28" y="267.54" width="21.72" height="6.60" fill="#ee3b2c" />
<text x="60.60" y="273.44" font-size="7.3" fill="#3f8ec5" text-anchor="end" >MHC−II</text>
<line x1="61.30" y1="270.84" x2="63.20" y2="270.84" stroke="#333" stroke-width="0.6" />
<rect x="215.40" y="267.54" width="75.80" height="3.30" fill="#3f8ec5" />
<rect x="215.40" y="270.84" width="67.60" height="3.30" fill="#ee3b2c" />
<text x="208.30" y="273.44" font-size="7.3" fill="#3f8ec5" text-anchor="end" >MHC−II</text>
<line x1="209.20" y1="270.84" x2="211.20" y2="270.84" stroke="#333" stroke-width="0.6" />
<rect x="67.40" y="275.83" width="56.83" height="6.60" fill="#3f8ec5" />
<rect x="124.23" y="275.83" width="25.77" height="6.60" fill="#ee3b2c" />
<text x="60.60" y="281.73" font-size="7.3" fill="#3f8ec5" text-anchor="end" >SELPLG</text>
<line x1="61.30" y1="279.13" x2="63.20" y2="279.13" stroke="#333" stroke-width="0.6" />
<rect x="215.40" y="275.83" width="2.00" height="3.30" fill="#3f8ec5" />
<rect x="215.40" y="279.13" width="1.50" height="3.30" fill="#ee3b2c" />
<text x="208.30" y="281.73" font-size="7.3" fill="#3f8ec5" text-anchor="end" >SELPLG</text>
<line x1="209.20" y1="279.13" x2="211.20" y2="279.13" stroke="#333" stroke-width="0.6" />
<rect x="67.40" y="284.12" width="55.09" height="6.60" fill="#3f8ec5" />
<rect x="122.49" y="284.12" width="27.51" height="6.60" fill="#ee3b2c" />
<text x="60.60" y="290.02" font-size="7.3" fill="#3f8ec5" text-anchor="end" >LIGHT</text>
<line x1="61.30" y1="287.42" x2="63.20" y2="287.42" stroke="#333" stroke-width="0.6" />
<rect x="215.40" y="284.12" width="1.00" height="3.30" fill="#3f8ec5" />
<rect x="215.40" y="287.42" width="0.60" height="3.30" fill="#ee3b2c" />
<text x="208.30" y="290.02" font-size="7.3" fill="#3f8ec5" text-anchor="end" >LIGHT</text>
<line x1="209.20" y1="287.42" x2="211.20" y2="287.42" stroke="#333" stroke-width="0.6" />
<rect x="67.40" y="292.41" width="54.52" height="6.60" fill="#3f8ec5" />
<rect x="121.92" y="292.41" width="28.08" height="6.60" fill="#ee3b2c" />
<text x="60.60" y="298.31" font-size="7.3" fill="#3f8ec5" text-anchor="end" >ADGRE5</text>
<line x1="61.30" y1="295.71" x2="63.20" y2="295.71" stroke="#333" stroke-width="0.6" />
<rect x="215.40" y="292.41" width="2.00" height="3.30" fill="#3f8ec5" />
<rect x="215.40" y="295.71" width="1.60" height="3.30" fill="#ee3b2c" />
<text x="208.30" y="298.31" font-size="7.3" fill="#3f8ec5" text-anchor="end" >ADGRE5</text>
<line x1="209.20" y1="295.71" x2="211.20" y2="295.71" stroke="#333" stroke-width="0.6" />
<rect x="67.40" y="300.70" width="52.78" height="6.60" fill="#3f8ec5" />
<rect x="120.18" y="300.70" width="29.82" height="6.60" fill="#ee3b2c" />
<text x="60.60" y="306.60" font-size="7.3" fill="#3f8ec5" text-anchor="end" >TNF</text>
<line x1="61.30" y1="304.00" x2="63.20" y2="304.00" stroke="#333" stroke-width="0.6" />
<rect x="215.40" y="300.70" width="2.00" height="3.30" fill="#3f8ec5" />
<rect x="215.40" y="304.00" width="1.60" height="3.30" fill="#ee3b2c" />
<text x="208.30" y="306.60" font-size="7.3" fill="#3f8ec5" text-anchor="end" >TNF</text>
<line x1="209.20" y1="304.00" x2="211.20" y2="304.00" stroke="#333" stroke-width="0.6" />
<rect x="67.40" y="309.00" width="42.29" height="6.60" fill="#3f8ec5" />
<rect x="109.69" y="309.00" width="40.31" height="6.60" fill="#ee3b2c" />
<text x="60.60" y="314.90" font-size="7.3" fill="#000" text-anchor="end" >COLLAGEN</text>
<line x1="61.30" y1="312.30" x2="63.20" y2="312.30" stroke="#333" stroke-width="0.6" />
<rect x="215.40" y="309.00" width="4.60" height="3.30" fill="#3f8ec5" />
<rect x="215.40" y="312.30" width="4.20" height="3.30" fill="#ee3b2c" />
<text x="208.30" y="314.90" font-size="7.3" fill="#000" text-anchor="end" >COLLAGEN</text>
<line x1="209.20" y1="312.30" x2="211.20" y2="312.30" stroke="#333" stroke-width="0.6" />
<rect x="67.40" y="317.29" width="39.40" height="6.60" fill="#3f8ec5" />
<rect x="106.80" y="317.29" width="43.20" height="6.60" fill="#ee3b2c" />
<text x="60.60" y="323.19" font-size="7.3" fill="#ee3b2c" text-anchor="end" >GALECTIN</text>
<line x1="61.30" y1="320.59" x2="63.20" y2="320.59" stroke="#333" stroke-width="0.6" />
<rect x="215.40" y="317.29" width="71.00" height="3.30" fill="#3f8ec5" />
<rect x="215.40" y="320.59" width="72.50" height="3.30" fill="#ee3b2c" />
<text x="208.30" y="323.19" font-size="7.3" fill="#ee3b2c" text-anchor="end" >GALECTIN</text>
<line x1="209.20" y1="320.59" x2="211.20" y2="320.59" stroke="#333" stroke-width="0.6" />
<rect x="67.40" y="325.58" width="39.98" height="6.60" fill="#3f8ec5" />
<rect x="107.38" y="325.58" width="42.62" height="6.60" fill="#ee3b2c" />
<text x="60.60" y="331.48" font-size="7.3" fill="#ee3b2c" text-anchor="end" >ITGB2</text>
<line x1="61.30" y1="328.88" x2="63.20" y2="328.88" stroke="#333" stroke-width="0.6" />
<rect x="215.40" y="325.58" width="2.40" height="3.30" fill="#3f8ec5" />
<rect x="215.40" y="328.88" width="2.60" height="3.30" fill="#ee3b2c" />
<text x="208.30" y="331.48" font-size="7.3" fill="#ee3b2c" text-anchor="end" >ITGB2</text>
<line x1="209.20" y1="328.88" x2="211.20" y2="328.88" stroke="#333" stroke-width="0.6" />
<rect x="67.40" y="333.87" width="37.67" height="6.60" fill="#3f8ec5" />
<rect x="105.07" y="333.87" width="44.93" height="6.60" fill="#ee3b2c" />
<text x="60.60" y="339.77" font-size="7.3" fill="#000" text-anchor="end" >MHC−I</text>
<line x1="61.30" y1="337.17" x2="63.20" y2="337.17" stroke="#333" stroke-width="0.6" />
<rect x="215.40" y="333.87" width="80.90" height="3.30" fill="#3f8ec5" />
<rect x="215.40" y="337.17" width="82.50" height="3.30" fill="#ee3b2c" />
<text x="208.30" y="339.77" font-size="7.3" fill="#000" text-anchor="end" >MHC−I</text>
<line x1="209.20" y1="337.17" x2="211.20" y2="337.17" stroke="#333" stroke-width="0.6" />
<rect x="67.40" y="342.16" width="37.09" height="6.60" fill="#3f8ec5" />
<rect x="104.49" y="342.16" width="45.51" height="6.60" fill="#ee3b2c" />
<text x="60.60" y="348.06" font-size="7.3" fill="#ee3b2c" text-anchor="end" >PD−L1</text>
<line x1="61.30" y1="345.46" x2="63.20" y2="345.46" stroke="#333" stroke-width="0.6" />
<rect x="215.40" y="342.16" width="0.50" height="3.30" fill="#3f8ec5" />
<rect x="215.40" y="345.46" width="0.60" height="3.30" fill="#ee3b2c" />
<text x="208.30" y="348.06" font-size="7.3" fill="#ee3b2c" text-anchor="end" >PD−L1</text>
<line x1="209.20" y1="345.46" x2="211.20" y2="345.46" stroke="#333" stroke-width="0.6" />
<rect x="67.40" y="350.46" width="36.51" height="6.60" fill="#3f8ec5" />
<rect x="103.91" y="350.46" width="46.09" height="6.60" fill="#ee3b2c" />
<text x="60.60" y="356.36" font-size="7.3" fill="#000" text-anchor="end" >ICAM</text>
<line x1="61.30" y1="353.76" x2="63.20" y2="353.76" stroke="#333" stroke-width="0.6" />
<rect x="215.40" y="350.46" width="9.70" height="3.30" fill="#3f8ec5" />
<rect x="215.40" y="353.76" width="37.80" height="3.30" fill="#ee3b2c" />
<text x="208.30" y="356.36" font-size="7.3" fill="#000" text-anchor="end" >ICAM</text>
<line x1="209.20" y1="353.76" x2="211.20" y2="353.76" stroke="#333" stroke-width="0.6" />
<rect x="67.40" y="358.75" width="31.88" height="6.60" fill="#3f8ec5" />
<rect x="99.28" y="358.75" width="50.72" height="6.60" fill="#ee3b2c" />
<text x="60.60" y="364.65" font-size="7.3" fill="#ee3b2c" text-anchor="end" >APP</text>
<line x1="61.30" y1="362.05" x2="63.20" y2="362.05" stroke="#333" stroke-width="0.6" />
<rect x="215.40" y="358.75" width="2.40" height="3.30" fill="#3f8ec5" />
<rect x="215.40" y="362.05" width="3.70" height="3.30" fill="#ee3b2c" />
<text x="208.30" y="364.65" font-size="7.3" fill="#ee3b2c" text-anchor="end" >APP</text>
<line x1="209.20" y1="362.05" x2="211.20" y2="362.05" stroke="#333" stroke-width="0.6" />
<rect x="67.40" y="367.04" width="31.31" height="6.60" fill="#3f8ec5" />
<rect x="98.71" y="367.04" width="51.29" height="6.60" fill="#ee3b2c" />
<text x="60.60" y="372.94" font-size="7.3" fill="#000" text-anchor="end" >CXCL</text>
<line x1="61.30" y1="370.34" x2="63.20" y2="370.34" stroke="#333" stroke-width="0.6" />
<rect x="215.40" y="367.04" width="6.60" height="3.30" fill="#3f8ec5" />
<rect x="215.40" y="370.34" width="60.40" height="3.30" fill="#ee3b2c" />
<text x="208.30" y="372.94" font-size="7.3" fill="#000" text-anchor="end" >CXCL</text>
<line x1="209.20" y1="370.34" x2="211.20" y2="370.34" stroke="#333" stroke-width="0.6" />
<rect x="67.40" y="375.33" width="30.97" height="6.60" fill="#3f8ec5" />
<rect x="98.38" y="375.33" width="51.62" height="6.60" fill="#ee3b2c" />
<text x="60.60" y="381.23" font-size="7.3" fill="#000" text-anchor="end" >LCK</text>
<line x1="61.30" y1="378.63" x2="63.20" y2="378.63" stroke="#333" stroke-width="0.6" />
<rect x="215.40" y="375.33" width="0.80" height="3.30" fill="#3f8ec5" />
<rect x="215.40" y="378.63" width="0.50" height="3.30" fill="#ee3b2c" />
<text x="208.30" y="381.23" font-size="7.3" fill="#000" text-anchor="end" >LCK</text>
<line x1="209.20" y1="378.63" x2="211.20" y2="378.63" stroke="#333" stroke-width="0.6" />
<rect x="67.40" y="383.62" width="25.52" height="6.60" fill="#3f8ec5" />
<rect x="92.92" y="383.62" width="57.08" height="6.60" fill="#ee3b2c" />
<text x="60.60" y="389.52" font-size="7.3" fill="#ee3b2c" text-anchor="end" >CCL</text>
<line x1="61.30" y1="386.92" x2="63.20" y2="386.92" stroke="#333" stroke-width="0.6" />
<rect x="215.40" y="383.62" width="2.00" height="3.30" fill="#3f8ec5" />
<rect x="215.40" y="386.92" width="5.50" height="3.30" fill="#ee3b2c" />
<text x="208.30" y="389.52" font-size="7.3" fill="#ee3b2c" text-anchor="end" >CCL</text>
<line x1="209.20" y1="386.92" x2="211.20" y2="386.92" stroke="#333" stroke-width="0.6" />
<rect x="67.40" y="391.92" width="25.19" height="6.60" fill="#3f8ec5" />
<rect x="92.59" y="391.92" width="57.41" height="6.60" fill="#ee3b2c" />
<text x="60.60" y="397.82" font-size="7.3" fill="#ee3b2c" text-anchor="end" >NECTIN</text>
<line x1="61.30" y1="395.22" x2="63.20" y2="395.22" stroke="#333" stroke-width="0.6" />
<rect x="215.40" y="391.92" width="1.50" height="3.30" fill="#3f8ec5" />
<rect x="215.40" y="395.22" width="3.00" height="3.30" fill="#ee3b2c" />
<text x="208.30" y="397.82" font-size="7.3" fill="#ee3b2c" text-anchor="end" >NECTIN</text>
<line x1="209.20" y1="395.22" x2="211.20" y2="395.22" stroke="#333" stroke-width="0.6" />
<rect x="67.40" y="400.21" width="25.19" height="6.60" fill="#3f8ec5" />
<rect x="92.59" y="400.21" width="57.41" height="6.60" fill="#ee3b2c" />
<text x="60.60" y="406.11" font-size="7.3" fill="#000" text-anchor="end" >CD80</text>
<line x1="61.30" y1="403.51" x2="63.20" y2="403.51" stroke="#333" stroke-width="0.6" />
<rect x="215.40" y="400.21" width="0.50" height="3.30" fill="#3f8ec5" />
<rect x="215.40" y="403.51" width="0.60" height="3.30" fill="#ee3b2c" />
<text x="208.30" y="406.11" font-size="7.3" fill="#000" text-anchor="end" >CD80</text>
<line x1="209.20" y1="403.51" x2="211.20" y2="403.51" stroke="#333" stroke-width="0.6" />
<rect x="67.40" y="408.50" width="23.21" height="6.60" fill="#3f8ec5" />
<rect x="90.61" y="408.50" width="59.39" height="6.60" fill="#ee3b2c" />
<text x="60.60" y="414.40" font-size="7.3" fill="#ee3b2c" text-anchor="end" >FN1</text>
<line x1="61.30" y1="411.80" x2="63.20" y2="411.80" stroke="#333" stroke-width="0.6" />
<rect x="215.40" y="408.50" width="63.60" height="3.30" fill="#3f8ec5" />
<rect x="215.40" y="411.80" width="68.80" height="3.30" fill="#ee3b2c" />
<text x="208.30" y="414.40" font-size="7.3" fill="#ee3b2c" text-anchor="end" >FN1</text>
<line x1="209.20" y1="411.80" x2="211.20" y2="411.80" stroke="#333" stroke-width="0.6" />
<rect x="67.40" y="416.79" width="22.63" height="6.60" fill="#3f8ec5" />
<rect x="90.03" y="416.79" width="59.97" height="6.60" fill="#ee3b2c" />
<text x="60.60" y="422.69" font-size="7.3" fill="#ee3b2c" text-anchor="end" >MIF</text>
<line x1="61.30" y1="420.09" x2="63.20" y2="420.09" stroke="#333" stroke-width="0.6" />
<rect x="215.40" y="416.79" width="73.80" height="3.30" fill="#3f8ec5" />
<rect x="215.40" y="420.09" width="78.80" height="3.30" fill="#ee3b2c" />
<text x="208.30" y="422.69" font-size="7.3" fill="#ee3b2c" text-anchor="end" >MIF</text>
<line x1="209.20" y1="420.09" x2="211.20" y2="420.09" stroke="#333" stroke-width="0.6" />
<rect x="67.40" y="425.08" width="20.57" height="6.60" fill="#3f8ec5" />
<rect x="87.97" y="425.08" width="62.03" height="6.60" fill="#ee3b2c" />
<text x="60.60" y="430.98" font-size="7.3" fill="#ee3b2c" text-anchor="end" >CLEC</text>
<line x1="61.30" y1="428.38" x2="63.20" y2="428.38" stroke="#333" stroke-width="0.6" />
<rect x="215.40" y="425.08" width="1.50" height="3.30" fill="#3f8ec5" />
<rect x="215.40" y="428.38" width="4.50" height="3.30" fill="#ee3b2c" />
<text x="208.30" y="430.98" font-size="7.3" fill="#ee3b2c" text-anchor="end" >CLEC</text>
<line x1="209.20" y1="428.38" x2="211.20" y2="428.38" stroke="#333" stroke-width="0.6" />
<rect x="67.40" y="433.38" width="18.83" height="6.60" fill="#3f8ec5" />
<rect x="86.23" y="433.38" width="63.77" height="6.60" fill="#ee3b2c" />
<text x="60.60" y="439.28" font-size="7.3" fill="#ee3b2c" text-anchor="end" >CD86</text>
<line x1="61.30" y1="436.68" x2="63.20" y2="436.68" stroke="#333" stroke-width="0.6" />
<rect x="215.40" y="433.38" width="2.40" height="3.30" fill="#3f8ec5" />
<rect x="215.40" y="436.68" width="54.90" height="3.30" fill="#ee3b2c" />
<text x="208.30" y="439.28" font-size="7.3" fill="#ee3b2c" text-anchor="end" >CD86</text>
<line x1="209.20" y1="436.68" x2="211.20" y2="436.68" stroke="#333" stroke-width="0.6" />
<rect x="67.40" y="441.67" width="13.05" height="6.60" fill="#3f8ec5" />
<rect x="80.45" y="441.67" width="69.55" height="6.60" fill="#ee3b2c" />
<text x="60.60" y="447.57" font-size="7.3" fill="#ee3b2c" text-anchor="end" >SPP1</text>
<line x1="61.30" y1="444.97" x2="63.20" y2="444.97" stroke="#333" stroke-width="0.6" />
<rect x="215.40" y="441.67" width="65.70" height="3.30" fill="#3f8ec5" />
<rect x="215.40" y="444.97" width="77.50" height="3.30" fill="#ee3b2c" />
<text x="208.30" y="447.57" font-size="7.3" fill="#ee3b2c" text-anchor="end" >SPP1</text>
<line x1="209.20" y1="444.97" x2="211.20" y2="444.97" stroke="#333" stroke-width="0.6" />
<rect x="67.40" y="449.96" width="11.56" height="6.60" fill="#3f8ec5" />
<rect x="78.96" y="449.96" width="71.04" height="6.60" fill="#ee3b2c" />
<text x="60.60" y="455.86" font-size="7.3" fill="#ee3b2c" text-anchor="end" >CD99</text>
<line x1="61.30" y1="453.26" x2="63.20" y2="453.26" stroke="#333" stroke-width="0.6" />
<rect x="215.40" y="449.96" width="2.40" height="3.30" fill="#3f8ec5" />
<rect x="215.40" y="453.26" width="62.30" height="3.30" fill="#ee3b2c" />
<text x="208.30" y="455.86" font-size="7.3" fill="#ee3b2c" text-anchor="end" >CD99</text>
<line x1="209.20" y1="453.26" x2="211.20" y2="453.26" stroke="#333" stroke-width="0.6" />
<rect x="67.40" y="458.25" width="82.60" height="6.60" fill="#ee3b2c" />
<text x="60.60" y="464.15" font-size="7.3" fill="#ee3b2c" text-anchor="end" >PECAM1</text>
<line x1="61.30" y1="461.55" x2="63.20" y2="461.55" stroke="#333" stroke-width="0.6" />
<rect x="215.40" y="461.55" width="0.60" height="3.30" fill="#ee3b2c" />
<text x="208.30" y="464.15" font-size="7.3" fill="#ee3b2c" text-anchor="end" >PECAM1</text>
<line x1="209.20" y1="461.55" x2="211.20" y2="461.55" stroke="#333" stroke-width="0.6" />
<rect x="67.40" y="466.54" width="82.60" height="6.60" fill="#ee3b2c" />
<text x="60.60" y="472.44" font-size="7.3" fill="#ee3b2c" text-anchor="end" >IL16</text>
<line x1="61.30" y1="469.84" x2="63.20" y2="469.84" stroke="#333" stroke-width="0.6" />
<rect x="215.40" y="469.84" width="0.60" height="3.30" fill="#ee3b2c" />
<text x="208.30" y="472.44" font-size="7.3" fill="#ee3b2c" text-anchor="end" >IL16</text>
<line x1="209.20" y1="469.84" x2="211.20" y2="469.84" stroke="#333" stroke-width="0.6" />
<rect x="67.40" y="474.84" width="82.60" height="6.60" fill="#ee3b2c" />
<text x="60.60" y="480.74" font-size="7.3" fill="#ee3b2c" text-anchor="end" >IL10</text>
<line x1="61.30" y1="478.14" x2="63.20" y2="478.14" stroke="#333" stroke-width="0.6" />
<rect x="215.40" y="478.14" width="0.60" height="3.30" fill="#ee3b2c" />
<text x="208.30" y="480.74" font-size="7.3" fill="#ee3b2c" text-anchor="end" >IL10</text>
<line x1="209.20" y1="478.14" x2="211.20" y2="478.14" stroke="#333" stroke-width="0.6" />
<rect x="67.40" y="483.13" width="82.60" height="6.60" fill="#ee3b2c" />
<text x="60.60" y="489.03" font-size="7.3" fill="#ee3b2c" text-anchor="end" >PARs</text>
<line x1="61.30" y1="486.43" x2="63.20" y2="486.43" stroke="#333" stroke-width="0.6" />
<rect x="215.40" y="486.43" width="0.60" height="3.30" fill="#ee3b2c" />
<text x="208.30" y="489.03" font-size="7.3" fill="#ee3b2c" text-anchor="end" >PARs</text>
<line x1="209.20" y1="486.43" x2="211.20" y2="486.43" stroke="#333" stroke-width="0.6" />
<rect x="67.40" y="491.42" width="82.60" height="6.60" fill="#ee3b2c" />
<text x="60.60" y="497.32" font-size="7.3" fill="#ee3b2c" text-anchor="end" >VCAM</text>
<line x1="61.30" y1="494.72" x2="63.20" y2="494.72" stroke="#333" stroke-width="0.6" />
<rect x="215.40" y="494.72" width="0.60" height="3.30" fill="#ee3b2c" />
<text x="208.30" y="497.32" font-size="7.3" fill="#ee3b2c" text-anchor="end" >VCAM</text>
<line x1="209.20" y1="494.72" x2="211.20" y2="494.72" stroke="#333" stroke-width="0.6" />
<rect x="67.40" y="499.71" width="82.60" height="6.60" fill="#ee3b2c" />
<text x="60.60" y="505.61" font-size="7.3" fill="#ee3b2c" text-anchor="end" >SN</text>
<line x1="61.30" y1="503.01" x2="63.20" y2="503.01" stroke="#333" stroke-width="0.6" />
<rect x="215.40" y="503.01" width="0.60" height="3.30" fill="#ee3b2c" />
<text x="208.30" y="505.61" font-size="7.3" fill="#ee3b2c" text-anchor="end" >SN</text>
<line x1="209.20" y1="503.01" x2="211.20" y2="503.01" stroke="#333" stroke-width="0.6" />
<rect x="67.40" y="508.00" width="82.60" height="6.60" fill="#ee3b2c" />
<text x="60.60" y="513.90" font-size="7.3" fill="#ee3b2c" text-anchor="end" >RESISTIN</text>
<line x1="61.30" y1="511.30" x2="63.20" y2="511.30" stroke="#333" stroke-width="0.6" />
<rect x="215.40" y="511.30" width="1.80" height="3.30" fill="#ee3b2c" />
<text x="208.30" y="513.90" font-size="7.3" fill="#ee3b2c" text-anchor="end" >RESISTIN</text>
<line x1="209.20" y1="511.30" x2="211.20" y2="511.30" stroke="#333" stroke-width="0.6" />
<line x1="108.70" y1="199.80" x2="108.70" y2="516.00" stroke="#777" stroke-width="0.7" stroke-dasharray="2.6,1.6"/>
<line x1="63.30" y1="200.00" x2="63.30" y2="516.40" stroke="#222" stroke-width="1.1" />
<line x1="62.80" y1="515.90" x2="153.20" y2="515.90" stroke="#222" stroke-width="1.1" />
<line x1="211.30" y1="200.00" x2="211.30" y2="516.40" stroke="#222" stroke-width="1.1" />
<line x1="210.80" y1="515.90" x2="302.00" y2="515.90" stroke="#222" stroke-width="1.1" />
<line x1="67.40" y1="515.90" x2="67.40" y2="518.00" stroke="#333" stroke-width="0.6" />
<text x="67.40" y="524.70" font-size="7.1" fill="#4d4d4d" text-anchor="middle" >0.00</text>
<line x1="88.05" y1="515.90" x2="88.05" y2="518.00" stroke="#333" stroke-width="0.6" />
<text x="88.05" y="524.70" font-size="7.1" fill="#4d4d4d" text-anchor="middle" >0.25</text>
<line x1="108.70" y1="515.90" x2="108.70" y2="518.00" stroke="#333" stroke-width="0.6" />
<text x="108.70" y="524.70" font-size="7.1" fill="#4d4d4d" text-anchor="middle" >0.50</text>
<line x1="129.35" y1="515.90" x2="129.35" y2="518.00" stroke="#333" stroke-width="0.6" />
<text x="129.35" y="524.70" font-size="7.1" fill="#4d4d4d" text-anchor="middle" >0.75</text>
<line x1="150.00" y1="515.90" x2="150.00" y2="518.00" stroke="#333" stroke-width="0.6" />
<text x="150.00" y="524.70" font-size="7.1" fill="#4d4d4d" text-anchor="middle" >1.00</text>
<line x1="215.60" y1="515.90" x2="215.60" y2="518.00" stroke="#333" stroke-width="0.6" />
<text x="215.60" y="524.70" font-size="7.1" fill="#4d4d4d" text-anchor="middle" >0</text>
<line x1="244.15" y1="515.90" x2="244.15" y2="518.00" stroke="#333" stroke-width="0.6" />
<text x="244.15" y="524.70" font-size="7.1" fill="#4d4d4d" text-anchor="middle" >10</text>
<line x1="272.70" y1="515.90" x2="272.70" y2="518.00" stroke="#333" stroke-width="0.6" />
<text x="272.70" y="524.70" font-size="7.1" fill="#4d4d4d" text-anchor="middle" >20</text>
<line x1="301.25" y1="515.90" x2="301.25" y2="518.00" stroke="#333" stroke-width="0.6" />
<text x="301.25" y="524.70" font-size="7.1" fill="#4d4d4d" text-anchor="middle" >30</text>
<text x="109.60" y="534.00" font-size="7.2" fill="#000" text-anchor="middle" >Relative information flow</text>
<text x="256.40" y="534.00" font-size="7.2" fill="#000" text-anchor="middle" >Information flow</text>
<rect x="312.20" y="352.80" width="9.60" height="9.30" fill="#3f8ec5" />
<rect x="312.20" y="363.40" width="9.60" height="9.40" fill="#ee3b2c" />
<text x="326.10" y="359.60" font-size="7.1" fill="#000" text-anchor="start" >TILlow</text>
<text x="326.10" y="370.30" font-size="7.1" fill="#000" text-anchor="start" >TILhigh</text>
<defs><linearGradient id="reds" x1="0" y1="1" x2="0" y2="0"><stop offset="0" stop-color="#fff5f0"/><stop offset="0.25" stop-color="#fcbba1"/><stop offset="0.5" stop-color="#fb6a4a"/><stop offset="0.75" stop-color="#cb181d"/><stop offset="1" stop-color="#67000d"/></linearGradient></defs>
<rect x="409.00" y="36.20" width="12.22" height="11.65" fill="#fde9df"/>
<rect x="421.07" y="36.20" width="12.22" height="11.65" fill="#fde8dd"/>
<rect x="433.14" y="36.20" width="12.22" height="11.65" fill="#fde9df"/>
<rect x="445.21" y="36.20" width="12.22" height="11.65" fill="#fdebe2"/>
<rect x="469.35" y="36.20" width="12.22" height="11.65" fill="#fdeae0"/>
<rect x="481.42" y="36.20" width="12.22" height="11.65" fill="#fef1eb"/>
<rect x="493.49" y="36.20" width="12.22" height="11.65" fill="#fde7dc"/>
<rect x="505.56" y="36.20" width="12.22" height="11.65" fill="#fdebe2"/>
<rect x="409.00" y="47.70" width="12.22" height="11.65" fill="#fddcca"/>
<rect x="421.07" y="47.70" width="12.22" height="11.65" fill="#fdd7c4"/>
<rect x="433.14" y="47.70" width="12.22" height="11.65" fill="#fcc8b0"/>
<rect x="445.21" y="47.70" width="12.22" height="11.65" fill="#fdd9c6"/>
<rect x="469.35" y="47.70" width="12.22" height="11.65" fill="#fcd2bd"/>
<rect x="481.42" y="47.70" width="12.22" height="11.65" fill="#fde6da"/>
<rect x="493.49" y="47.70" width="12.22" height="11.65" fill="#fcc5ab"/>
<rect x="505.56" y="47.70" width="12.22" height="11.65" fill="#fdd7c4"/>
<rect x="409.00" y="59.20" width="12.22" height="11.65" fill="#fdd9c6"/>
<rect x="421.07" y="59.20" width="12.22" height="11.65" fill="#fcceb8"/>
<rect x="433.14" y="59.20" width="12.22" height="11.65" fill="#fcc1a6"/>
<rect x="445.21" y="59.20" width="12.22" height="11.65" fill="#fdd3bd"/>
<rect x="469.35" y="59.20" width="12.22" height="11.65" fill="#fcc9b2"/>
<rect x="481.42" y="59.20" width="12.22" height="11.65" fill="#fde6da"/>
<rect x="493.49" y="59.20" width="12.22" height="11.65" fill="#fcbfa4"/>
<rect x="505.56" y="59.20" width="12.22" height="11.65" fill="#fdd5c0"/>
<rect x="409.00" y="70.70" width="12.22" height="11.65" fill="#feeae0"/>
<rect x="421.07" y="70.70" width="12.22" height="11.65" fill="#fee7dc"/>
<rect x="433.14" y="70.70" width="12.22" height="11.65" fill="#fee5d9"/>
<rect x="445.21" y="70.70" width="12.22" height="11.65" fill="#fee9df"/>
<rect x="469.35" y="70.70" width="12.22" height="11.65" fill="#fee6da"/>
<rect x="481.42" y="70.70" width="12.22" height="11.65" fill="#fef1eb"/>
<rect x="493.49" y="70.70" width="12.22" height="11.65" fill="#fee3d6"/>
<rect x="505.56" y="70.70" width="12.22" height="11.65" fill="#fee8de"/>
<rect x="409.00" y="82.20" width="12.22" height="11.65" fill="#feeee6"/>
<rect x="421.07" y="82.20" width="12.22" height="11.65" fill="#feece3"/>
<rect x="433.14" y="82.20" width="12.22" height="11.65" fill="#feeae0"/>
<rect x="445.21" y="82.20" width="12.22" height="11.65" fill="#feede4"/>
<rect x="469.35" y="82.20" width="12.22" height="11.65" fill="#fee9df"/>
<rect x="481.42" y="82.20" width="12.22" height="11.65" fill="#fef3ee"/>
<rect x="493.49" y="82.20" width="12.22" height="11.65" fill="#fee8dd"/>
<rect x="505.56" y="82.20" width="12.22" height="11.65" fill="#feede4"/>
<rect x="409.00" y="93.70" width="12.22" height="11.65" fill="#feece3"/>
<rect x="421.07" y="93.70" width="12.22" height="11.65" fill="#fee9df"/>
<rect x="433.14" y="93.70" width="12.22" height="11.65" fill="#fee6da"/>
<rect x="445.21" y="93.70" width="12.22" height="11.65" fill="#feebe2"/>
<rect x="469.35" y="93.70" width="12.22" height="11.65" fill="#fee8dd"/>
<rect x="481.42" y="93.70" width="12.22" height="11.65" fill="#fef1eb"/>
<rect x="493.49" y="93.70" width="12.22" height="11.65" fill="#fee4d8"/>
<rect x="505.56" y="93.70" width="12.22" height="11.65" fill="#feebe2"/>
<rect x="409.00" y="105.20" width="12.22" height="11.65" fill="#feede4"/>
<rect x="421.07" y="105.20" width="12.22" height="11.65" fill="#feeae1"/>
<rect x="433.14" y="105.20" width="12.22" height="11.65" fill="#fee7dc"/>
<rect x="445.21" y="105.20" width="12.22" height="11.65" fill="#feece3"/>
<rect x="469.35" y="105.20" width="12.22" height="11.65" fill="#fee9df"/>
<rect x="481.42" y="105.20" width="12.22" height="11.65" fill="#fef2ec"/>
<rect x="493.49" y="105.20" width="12.22" height="11.65" fill="#fee6da"/>
<rect x="505.56" y="105.20" width="12.22" height="11.65" fill="#feece3"/>
<rect x="409.00" y="116.70" width="12.22" height="11.65" fill="#f5553c"/>
<rect x="421.07" y="116.70" width="12.22" height="11.65" fill="#d42020"/>
<rect x="433.14" y="116.70" width="12.22" height="11.65" fill="#8b0d14"/>
<rect x="445.21" y="116.70" width="12.22" height="11.65" fill="#d32020"/>
<rect x="469.35" y="116.70" width="12.22" height="11.65" fill="#c8171c"/>
<rect x="481.42" y="116.70" width="12.22" height="11.65" fill="#fc9c7d"/>
<rect x="493.49" y="116.70" width="12.22" height="11.65" fill="#67000d"/>
<rect x="505.56" y="116.70" width="12.22" height="11.65" fill="#eb3a2c"/>
<rect x="409.00" y="128.20" width="12.22" height="11.65" fill="#fde0d2"/>
<rect x="421.07" y="128.20" width="12.22" height="11.65" fill="#fcd5c2"/>
<rect x="433.14" y="128.20" width="12.22" height="11.65" fill="#fcc5ab"/>
<rect x="445.21" y="128.20" width="12.22" height="11.65" fill="#fdd9c6"/>
<rect x="469.35" y="128.20" width="12.22" height="11.65" fill="#fcccb5"/>
<rect x="481.42" y="128.20" width="12.22" height="11.65" fill="#fde8de"/>
<rect x="493.49" y="128.20" width="12.22" height="11.65" fill="#fcc1a7"/>
<rect x="505.56" y="128.20" width="12.22" height="11.65" fill="#fddccb"/>
<rect x="405.00" y="24.70" width="3.0" height="11.60" fill="#f0855e"/>
<rect x="405.00" y="36.20" width="3.0" height="11.60" fill="#df7fc2"/>
<rect x="405.00" y="47.70" width="3.0" height="11.60" fill="#b793c4"/>
<rect x="405.00" y="59.20" width="3.0" height="11.60" fill="#a55f40"/>
<rect x="405.00" y="70.70" width="3.0" height="11.60" fill="#e08a2a"/>
<rect x="405.00" y="82.20" width="3.0" height="11.60" fill="#768591"/>
<rect x="405.00" y="93.70" width="3.0" height="11.60" fill="#4a86c5"/>
<rect x="405.00" y="105.20" width="3.0" height="11.60" fill="#1f3b7a"/>
<rect x="405.00" y="116.70" width="3.0" height="11.60" fill="#1b8a6e"/>
<rect x="405.00" y="128.20" width="3.0" height="11.60" fill="#9a4fa6"/>
<rect x="409.00" y="141.10" width="12.17" height="2.9" fill="#f0855e"/>
<rect x="421.07" y="141.10" width="12.17" height="2.9" fill="#df7fc2"/>
<rect x="433.14" y="141.10" width="12.17" height="2.9" fill="#b793c4"/>
<rect x="445.21" y="141.10" width="12.17" height="2.9" fill="#a55f40"/>
<rect x="457.28" y="141.10" width="12.17" height="2.9" fill="#e08a2a"/>
<rect x="469.35" y="141.10" width="12.17" height="2.9" fill="#768591"/>
<rect x="481.42" y="141.10" width="12.17" height="2.9" fill="#4a86c5"/>
<rect x="493.49" y="141.10" width="12.17" height="2.9" fill="#1f3b7a"/>
<rect x="505.56" y="141.10" width="12.17" height="2.9" fill="#1b8a6e"/>
<rect x="411.38" y="16.00" width="7.3" height="7.50" fill="#f0855e"/>
<rect x="423.45" y="13.40" width="7.3" height="10.10" fill="#df7fc2"/>
<rect x="435.52" y="10.40" width="7.3" height="13.10" fill="#b793c4"/>
<rect x="447.59" y="13.20" width="7.3" height="10.30" fill="#a55f40"/>
<rect x="459.66" y="23.10" width="7.3" height="0.50" fill="#e08a2a"/>
<rect x="471.74" y="12.60" width="7.3" height="10.90" fill="#768591"/>
<rect x="483.81" y="18.30" width="7.3" height="5.20" fill="#4a86c5"/>
<rect x="495.88" y="9.70" width="7.3" height="13.80" fill="#1f3b7a"/>
<rect x="507.94" y="14.40" width="7.3" height="9.10" fill="#1b8a6e"/>
<line x1="409.40" y1="9.00" x2="409.40" y2="23.90" stroke="#222" stroke-width="0.7"/>
<line x1="408.20" y1="11.70" x2="409.40" y2="11.70" stroke="#222" stroke-width="0.4"/>
<text x="406.80" y="13.25" font-size="4.3" fill="#333" text-anchor="end">0.4</text>
<line x1="408.20" y1="17.50" x2="409.40" y2="17.50" stroke="#222" stroke-width="0.4"/>
<text x="406.80" y="19.05" font-size="4.3" fill="#333" text-anchor="end">0.2</text>
<line x1="408.20" y1="23.30" x2="409.40" y2="23.30" stroke="#222" stroke-width="0.4"/>
<text x="406.80" y="24.85" font-size="4.3" fill="#333" text-anchor="end">0</text>
<rect x="518.40" y="27.00" width="1.40" height="6.9" fill="#f0855e"/>
<rect x="518.40" y="38.50" width="2.60" height="6.9" fill="#df7fc2"/>
<rect x="518.40" y="50.00" width="4.00" height="6.9" fill="#b793c4"/>
<rect x="518.40" y="61.50" width="4.50" height="6.9" fill="#a55f40"/>
<rect x="518.40" y="73.00" width="3.30" height="6.9" fill="#e08a2a"/>
<rect x="518.40" y="84.50" width="2.60" height="6.9" fill="#768591"/>
<rect x="518.40" y="96.00" width="3.30" height="6.9" fill="#4a86c5"/>
<rect x="518.40" y="107.50" width="2.60" height="6.9" fill="#1f3b7a"/>
<rect x="518.40" y="119.00" width="14.40" height="6.9" fill="#1b8a6e"/>
<rect x="518.40" y="130.50" width="4.50" height="6.9" fill="#9a4fa6"/>
<line x1="518.40" y1="139.40" x2="532.40" y2="139.40" stroke="#222" stroke-width="0.7"/>
<line x1="519.40" y1="139.40" x2="519.40" y2="140.60" stroke="#222" stroke-width="0.4"/>
<text transform="translate(520.60,141.20) rotate(-90)" font-size="3.6" fill="#333" text-anchor="end">0</text>
<line x1="525.40" y1="139.40" x2="525.40" y2="140.60" stroke="#222" stroke-width="0.4"/>
<text transform="translate(526.60,141.20) rotate(-90)" font-size="3.6" fill="#333" text-anchor="end">0.5</text>
<line x1="531.40" y1="139.40" x2="531.40" y2="140.60" stroke="#222" stroke-width="0.4"/>
<text transform="translate(532.60,141.20) rotate(-90)" font-size="3.6" fill="#333" text-anchor="end">1</text>
<text transform="translate(416.64,145.30) rotate(-90)" font-size="4.1" fill="#000" text-anchor="end">CD4 Naive</text>
<text transform="translate(428.71,145.30) rotate(-90)" font-size="4.1" fill="#000" text-anchor="end">CD4 Proliferating</text>
<text transform="translate(440.78,145.30) rotate(-90)" font-size="4.1" fill="#000" text-anchor="end">CD4 TCM</text>
<text transform="translate(452.85,145.30) rotate(-90)" font-size="4.1" fill="#000" text-anchor="end">CD4 TEM</text>
<text transform="translate(464.92,145.30) rotate(-90)" font-size="4.1" fill="#000" text-anchor="end">CD4 CTL</text>
<text transform="translate(476.99,145.30) rotate(-90)" font-size="4.1" fill="#000" text-anchor="end">CD8 Naive</text>
<text transform="translate(489.06,145.30) rotate(-90)" font-size="4.1" fill="#000" text-anchor="end">CD8 Proliferating</text>
<text transform="translate(501.13,145.30) rotate(-90)" font-size="4.1" fill="#000" text-anchor="end">CD8 TCM</text>
<text transform="translate(513.20,145.30) rotate(-90)" font-size="4.1" fill="#000" text-anchor="end">CD8 TEM</text>
<text x="465.60" y="5.70" font-size="7.3" fill="#000" text-anchor="middle">SPP1 signaling</text>
<rect x="552.57" y="24.70" width="12.22" height="11.65" fill="#fef0e8"/>
<rect x="564.64" y="24.70" width="12.22" height="11.65" fill="#fef0e8"/>
<rect x="600.85" y="24.70" width="12.22" height="11.65" fill="#fef0e8"/>
<rect x="612.92" y="24.70" width="12.22" height="11.65" fill="#fef0e8"/>
<rect x="624.99" y="24.70" width="12.22" height="11.65" fill="#fef0e8"/>
<rect x="552.57" y="36.20" width="12.22" height="11.65" fill="#e8362a"/>
<rect x="564.64" y="36.20" width="12.22" height="11.65" fill="#d42121"/>
<rect x="576.71" y="36.20" width="12.22" height="11.65" fill="#fb6a4a"/>
<rect x="588.78" y="36.20" width="12.22" height="11.65" fill="#f85d42"/>
<rect x="600.85" y="36.20" width="12.22" height="11.65" fill="#c8171c"/>
<rect x="612.92" y="36.20" width="12.22" height="11.65" fill="#d82623"/>
<rect x="624.99" y="36.20" width="12.22" height="11.65" fill="#c8171c"/>
<rect x="637.06" y="36.20" width="12.22" height="11.65" fill="#fb6a4a"/>
<rect x="552.57" y="47.70" width="12.22" height="11.65" fill="#f5523a"/>
<rect x="564.64" y="47.70" width="12.22" height="11.65" fill="#e8372a"/>
<rect x="576.71" y="47.70" width="12.22" height="11.65" fill="#fb7c5c"/>
<rect x="588.78" y="47.70" width="12.22" height="11.65" fill="#fb7555"/>
<rect x="600.85" y="47.70" width="12.22" height="11.65" fill="#dc2a25"/>
<rect x="612.92" y="47.70" width="12.22" height="11.65" fill="#ea3a2b"/>
<rect x="624.99" y="47.70" width="12.22" height="11.65" fill="#de2c26"/>
<rect x="637.06" y="47.70" width="12.22" height="11.65" fill="#fb7252"/>
<rect x="552.57" y="59.20" width="12.22" height="11.65" fill="#fb6c4c"/>
<rect x="564.64" y="59.20" width="12.22" height="11.65" fill="#f5553c"/>
<rect x="576.71" y="59.20" width="12.22" height="11.65" fill="#fc9070"/>
<rect x="588.78" y="59.20" width="12.22" height="11.65" fill="#fc8a6a"/>
<rect x="600.85" y="59.20" width="12.22" height="11.65" fill="#f0452f"/>
<rect x="612.92" y="59.20" width="12.22" height="11.65" fill="#f65a3f"/>
<rect x="624.99" y="59.20" width="12.22" height="11.65" fill="#f14a33"/>
<rect x="637.06" y="59.20" width="12.22" height="11.65" fill="#fc8565"/>
<rect x="552.57" y="70.70" width="12.22" height="11.65" fill="#fa6446"/>
<rect x="564.64" y="70.70" width="12.22" height="11.65" fill="#f14432"/>
<rect x="576.71" y="70.70" width="12.22" height="11.65" fill="#fc8a6a"/>
<rect x="588.78" y="70.70" width="12.22" height="11.65" fill="#fb7f5f"/>
<rect x="600.85" y="70.70" width="12.22" height="11.65" fill="#e8372a"/>
<rect x="612.92" y="70.70" width="12.22" height="11.65" fill="#f14a33"/>
<rect x="624.99" y="70.70" width="12.22" height="11.65" fill="#eb3b2c"/>
<rect x="637.06" y="70.70" width="12.22" height="11.65" fill="#fb7c5c"/>
<rect x="552.57" y="82.20" width="12.22" height="11.65" fill="#fb6c4c"/>
<rect x="564.64" y="82.20" width="12.22" height="11.65" fill="#f5553c"/>
<rect x="576.71" y="82.20" width="12.22" height="11.65" fill="#fc8f6f"/>
<rect x="588.78" y="82.20" width="12.22" height="11.65" fill="#fc8a6a"/>
<rect x="600.85" y="82.20" width="12.22" height="11.65" fill="#f14432"/>
<rect x="612.92" y="82.20" width="12.22" height="11.65" fill="#f65a3f"/>
<rect x="624.99" y="82.20" width="12.22" height="11.65" fill="#f24a33"/>
<rect x="637.06" y="82.20" width="12.22" height="11.65" fill="#fc8565"/>
<rect x="552.57" y="93.70" width="12.22" height="11.65" fill="#fb6c4c"/>
<rect x="564.64" y="93.70" width="12.22" height="11.65" fill="#f24a33"/>
<rect x="576.71" y="93.70" width="12.22" height="11.65" fill="#fc8f6f"/>
<rect x="588.78" y="93.70" width="12.22" height="11.65" fill="#fc8565"/>
<rect x="600.85" y="93.70" width="12.22" height="11.65" fill="#ef3f2e"/>
<rect x="612.92" y="93.70" width="12.22" height="11.65" fill="#f5553c"/>
<rect x="624.99" y="93.70" width="12.22" height="11.65" fill="#ee3d2d"/>
<rect x="637.06" y="93.70" width="12.22" height="11.65" fill="#fc8565"/>
<rect x="552.57" y="105.20" width="12.22" height="11.65" fill="#fb6a4a"/>
<rect x="564.64" y="105.20" width="12.22" height="11.65" fill="#f14432"/>
<rect x="576.71" y="105.20" width="12.22" height="11.65" fill="#fc8a6a"/>
<rect x="588.78" y="105.20" width="12.22" height="11.65" fill="#fb7f5f"/>
<rect x="600.85" y="105.20" width="12.22" height="11.65" fill="#ea372a"/>
<rect x="612.92" y="105.20" width="12.22" height="11.65" fill="#f24a33"/>
<rect x="624.99" y="105.20" width="12.22" height="11.65" fill="#ea3a2b"/>
<rect x="637.06" y="105.20" width="12.22" height="11.65" fill="#fb7a5a"/>
<rect x="552.57" y="116.70" width="12.22" height="11.65" fill="#b81419"/>
<rect x="564.64" y="116.70" width="12.22" height="11.65" fill="#8e0c13"/>
<rect x="576.71" y="116.70" width="12.22" height="11.65" fill="#ef3f2e"/>
<rect x="588.78" y="116.70" width="12.22" height="11.65" fill="#e8362a"/>
<rect x="600.85" y="116.70" width="12.22" height="11.65" fill="#67000d"/>
<rect x="612.92" y="116.70" width="12.22" height="11.65" fill="#940d13"/>
<rect x="624.99" y="116.70" width="12.22" height="11.65" fill="#6a000d"/>
<rect x="637.06" y="116.70" width="12.22" height="11.65" fill="#e8362a"/>
<rect x="552.57" y="128.20" width="12.22" height="11.65" fill="#e8362a"/>
<rect x="564.64" y="128.20" width="12.22" height="11.65" fill="#cf1c1f"/>
<rect x="576.71" y="128.20" width="12.22" height="11.65" fill="#fb6d4d"/>
<rect x="588.78" y="128.20" width="12.22" height="11.65" fill="#f85d42"/>
<rect x="600.85" y="128.20" width="12.22" height="11.65" fill="#c8171c"/>
<rect x="612.92" y="128.20" width="12.22" height="11.65" fill="#d22020"/>
<rect x="624.99" y="128.20" width="12.22" height="11.65" fill="#c7161c"/>
<rect x="637.06" y="128.20" width="12.22" height="11.65" fill="#fb6a4a"/>
<rect x="536.40" y="24.70" width="3.0" height="11.60" fill="#f0855e"/>
<rect x="536.40" y="36.20" width="3.0" height="11.60" fill="#df7fc2"/>
<rect x="536.40" y="47.70" width="3.0" height="11.60" fill="#b793c4"/>
<rect x="536.40" y="59.20" width="3.0" height="11.60" fill="#a55f40"/>
<rect x="536.40" y="70.70" width="3.0" height="11.60" fill="#e08a2a"/>
<rect x="536.40" y="82.20" width="3.0" height="11.60" fill="#768591"/>
<rect x="536.40" y="93.70" width="3.0" height="11.60" fill="#4a86c5"/>
<rect x="536.40" y="105.20" width="3.0" height="11.60" fill="#1f3b7a"/>
<rect x="536.40" y="116.70" width="3.0" height="11.60" fill="#1b8a6e"/>
<rect x="536.40" y="128.20" width="3.0" height="11.60" fill="#9a4fa6"/>
<rect x="540.50" y="141.10" width="12.17" height="2.9" fill="#f0855e"/>
<rect x="552.57" y="141.10" width="12.17" height="2.9" fill="#df7fc2"/>
<rect x="564.64" y="141.10" width="12.17" height="2.9" fill="#b793c4"/>
<rect x="576.71" y="141.10" width="12.17" height="2.9" fill="#a55f40"/>
<rect x="588.78" y="141.10" width="12.17" height="2.9" fill="#e08a2a"/>
<rect x="600.85" y="141.10" width="12.17" height="2.9" fill="#768591"/>
<rect x="612.92" y="141.10" width="12.17" height="2.9" fill="#4a86c5"/>
<rect x="624.99" y="141.10" width="12.17" height="2.9" fill="#1f3b7a"/>
<rect x="637.06" y="141.10" width="12.17" height="2.9" fill="#1b8a6e"/>
<rect x="542.88" y="23.20" width="7.3" height="0.50" fill="#f0855e"/>
<rect x="554.96" y="12.40" width="7.3" height="11.10" fill="#df7fc2"/>
<rect x="567.02" y="10.40" width="7.3" height="13.10" fill="#b793c4"/>
<rect x="579.10" y="14.60" width="7.3" height="8.90" fill="#a55f40"/>
<rect x="591.16" y="14.00" width="7.3" height="9.50" fill="#e08a2a"/>
<rect x="603.24" y="10.10" width="7.3" height="13.40" fill="#768591"/>
<rect x="615.30" y="11.00" width="7.3" height="12.50" fill="#4a86c5"/>
<rect x="627.38" y="10.10" width="7.3" height="13.40" fill="#1f3b7a"/>
<rect x="639.44" y="14.40" width="7.3" height="9.10" fill="#1b8a6e"/>
<line x1="540.90" y1="9.00" x2="540.90" y2="23.90" stroke="#222" stroke-width="0.7"/>
<line x1="539.70" y1="9.60" x2="540.90" y2="9.60" stroke="#222" stroke-width="0.4"/>
<text x="538.30" y="11.15" font-size="4.3" fill="#333" text-anchor="end">2</text>
<line x1="539.70" y1="16.50" x2="540.90" y2="16.50" stroke="#222" stroke-width="0.4"/>
<text x="538.30" y="18.05" font-size="4.3" fill="#333" text-anchor="end">1</text>
<line x1="539.70" y1="23.30" x2="540.90" y2="23.30" stroke="#222" stroke-width="0.4"/>
<text x="538.30" y="24.85" font-size="4.3" fill="#333" text-anchor="end">0</text>
<rect x="650.20" y="27.00" width="0.80" height="6.9" fill="#f0855e"/>
<rect x="650.20" y="38.50" width="10.70" height="6.9" fill="#df7fc2"/>
<rect x="650.20" y="50.00" width="9.40" height="6.9" fill="#b793c4"/>
<rect x="650.20" y="61.50" width="7.10" height="6.9" fill="#a55f40"/>
<rect x="650.20" y="73.00" width="8.90" height="6.9" fill="#e08a2a"/>
<rect x="650.20" y="84.50" width="7.80" height="6.9" fill="#768591"/>
<rect x="650.20" y="96.00" width="7.80" height="6.9" fill="#4a86c5"/>
<rect x="650.20" y="107.50" width="7.80" height="6.9" fill="#1f3b7a"/>
<rect x="650.20" y="119.00" width="13.20" height="6.9" fill="#1b8a6e"/>
<rect x="650.20" y="130.50" width="9.80" height="6.9" fill="#9a4fa6"/>
<line x1="650.20" y1="139.40" x2="664.20" y2="139.40" stroke="#222" stroke-width="0.7"/>
<line x1="651.20" y1="139.40" x2="651.20" y2="140.60" stroke="#222" stroke-width="0.4"/>
<text transform="translate(652.40,141.20) rotate(-90)" font-size="3.6" fill="#333" text-anchor="end">0</text>
<line x1="655.20" y1="139.40" x2="655.20" y2="140.60" stroke="#222" stroke-width="0.4"/>
<text transform="translate(656.40,141.20) rotate(-90)" font-size="3.6" fill="#333" text-anchor="end">1</text>
<line x1="659.20" y1="139.40" x2="659.20" y2="140.60" stroke="#222" stroke-width="0.4"/>
<text transform="translate(660.40,141.20) rotate(-90)" font-size="3.6" fill="#333" text-anchor="end">2</text>
<line x1="663.20" y1="139.40" x2="663.20" y2="140.60" stroke="#222" stroke-width="0.4"/>
<text transform="translate(664.40,141.20) rotate(-90)" font-size="3.6" fill="#333" text-anchor="end">3</text>
<text transform="translate(548.13,145.30) rotate(-90)" font-size="4.1" fill="#000" text-anchor="end">CD4 Naive</text>
<text transform="translate(560.21,145.30) rotate(-90)" font-size="4.1" fill="#000" text-anchor="end">CD4 Proliferating</text>
<text transform="translate(572.27,145.30) rotate(-90)" font-size="4.1" fill="#000" text-anchor="end">CD4 TCM</text>
<text transform="translate(584.35,145.30) rotate(-90)" font-size="4.1" fill="#000" text-anchor="end">CD4 TEM</text>
<text transform="translate(596.41,145.30) rotate(-90)" font-size="4.1" fill="#000" text-anchor="end">CD4 CTL</text>
<text transform="translate(608.49,145.30) rotate(-90)" font-size="4.1" fill="#000" text-anchor="end">CD8 Naive</text>
<text transform="translate(620.55,145.30) rotate(-90)" font-size="4.1" fill="#000" text-anchor="end">CD8 Proliferating</text>
<text transform="translate(632.62,145.30) rotate(-90)" font-size="4.1" fill="#000" text-anchor="end">CD8 TCM</text>
<text transform="translate(644.69,145.30) rotate(-90)" font-size="4.1" fill="#000" text-anchor="end">CD8 TEM</text>
<text x="596.70" y="5.70" font-size="7.3" fill="#000" text-anchor="middle">SPP1 signaling</text>
<text transform="translate(403.8,32.60) scale(0.87,1)" font-size="4.7" fill="#111" text-anchor="end">CCR7+macro</text>
<text transform="translate(403.8,44.10) scale(0.87,1)" font-size="4.7" fill="#111" text-anchor="end">CTSK+macro</text>
<text transform="translate(403.8,55.60) scale(0.87,1)" font-size="4.7" fill="#111" text-anchor="end">CXCL10+macro</text>
<text transform="translate(403.8,67.10) scale(0.87,1)" font-size="4.7" fill="#111" text-anchor="end">FOLR2+macro</text>
<text transform="translate(403.8,78.60) scale(0.87,1)" font-size="4.7" fill="#111" text-anchor="end">FTL+macro</text>
<text transform="translate(403.8,90.10) scale(0.87,1)" font-size="4.7" fill="#111" text-anchor="end">IG+macro</text>
<text transform="translate(403.8,101.60) scale(0.87,1)" font-size="4.7" fill="#111" text-anchor="end">IL32+macro</text>
<text transform="translate(403.8,113.10) scale(0.87,1)" font-size="4.7" fill="#111" text-anchor="end">monocyte</text>
<text transform="translate(403.8,124.60) scale(0.87,1)" font-size="4.7" fill="#111" text-anchor="end">SPP1+macro</text>
<text transform="translate(403.8,136.10) scale(0.87,1)" font-size="4.7" fill="#111" text-anchor="end">STMN1+macro</text>
<text transform="translate(367.8,72.30) rotate(-90)" font-size="7.2" fill="#000" text-anchor="middle">Sources (Sender)</text>
<text transform="translate(670.90,82.00) rotate(-90)" font-size="7.2" fill="#000" text-anchor="middle">Communication Prob.</text>
<rect x="672.90" y="68.10" width="3" height="28.60" fill="url(#reds)"/>
<text x="677.00" y="70.60" font-size="3.8" fill="#333">0.2</text>
<text x="677.00" y="77.00" font-size="3.8" fill="#333">0.15</text>
<text x="677.00" y="83.50" font-size="3.8" fill="#333">0.1</text>
<text x="677.00" y="90.60" font-size="3.8" fill="#333">0.05</text>
<text x="677.00" y="96.60" font-size="3.8" fill="#333">0</text>
<rect x="493.49" y="224.00" width="12.22" height="11.65" fill="#fde0d2"/>
<rect x="421.07" y="235.50" width="12.22" height="11.65" fill="#fde5d8"/>
<rect x="433.14" y="235.50" width="12.22" height="11.65" fill="#fde5d8"/>
<rect x="481.42" y="235.50" width="12.22" height="11.65" fill="#fcd4c0"/>
<rect x="493.49" y="235.50" width="12.22" height="11.65" fill="#c4161c"/>
<rect x="505.56" y="235.50" width="12.22" height="11.65" fill="#fef0e8"/>
<rect x="421.07" y="258.50" width="12.22" height="11.65" fill="#feeee6"/>
<rect x="433.14" y="258.50" width="12.22" height="11.65" fill="#feeee6"/>
<rect x="481.42" y="258.50" width="12.22" height="11.65" fill="#fde5d9"/>
<rect x="493.49" y="258.50" width="12.22" height="11.65" fill="#dd2a25"/>
<rect x="505.56" y="258.50" width="12.22" height="11.65" fill="#fef3ee"/>
<rect x="493.49" y="270.00" width="12.22" height="11.65" fill="#c9181d"/>
<rect x="421.07" y="281.50" width="12.22" height="11.65" fill="#fde3d6"/>
<rect x="433.14" y="281.50" width="12.22" height="11.65" fill="#fde3d6"/>
<rect x="481.42" y="281.50" width="12.22" height="11.65" fill="#fcd2bd"/>
<rect x="493.49" y="281.50" width="12.22" height="11.65" fill="#be151a"/>
<rect x="505.56" y="281.50" width="12.22" height="11.65" fill="#f5553c"/>
<rect x="421.07" y="293.00" width="12.22" height="11.65" fill="#feeae1"/>
<rect x="433.14" y="293.00" width="12.22" height="11.65" fill="#feeae1"/>
<rect x="481.42" y="293.00" width="12.22" height="11.65" fill="#fde2d4"/>
<rect x="493.49" y="293.00" width="12.22" height="11.65" fill="#d62323"/>
<rect x="505.56" y="293.00" width="12.22" height="11.65" fill="#fef1ea"/>
<rect x="421.07" y="304.50" width="12.22" height="11.65" fill="#fddccb"/>
<rect x="433.14" y="304.50" width="12.22" height="11.65" fill="#fddccb"/>
<rect x="445.21" y="304.50" width="12.22" height="11.65" fill="#fef0e8"/>
<rect x="469.35" y="304.50" width="12.22" height="11.65" fill="#fee9df"/>
<rect x="481.42" y="304.50" width="12.22" height="11.65" fill="#fcc8b0"/>
<rect x="493.49" y="304.50" width="12.22" height="11.65" fill="#9e0d14"/>
<rect x="505.56" y="304.50" width="12.22" height="11.65" fill="#e83429"/>
<rect x="421.07" y="316.00" width="12.22" height="11.65" fill="#fcd3be"/>
<rect x="433.14" y="316.00" width="12.22" height="11.65" fill="#d92624"/>
<rect x="445.21" y="316.00" width="12.22" height="11.65" fill="#fde4d8"/>
<rect x="469.35" y="316.00" width="12.22" height="11.65" fill="#e8382a"/>
<rect x="481.42" y="316.00" width="12.22" height="11.65" fill="#fcb79b"/>
<rect x="493.49" y="316.00" width="12.22" height="11.65" fill="#67000d"/>
<rect x="505.56" y="316.00" width="12.22" height="11.65" fill="#d22020"/>
<rect x="405.00" y="212.50" width="3.0" height="11.60" fill="#f0855e"/>
<rect x="405.00" y="224.00" width="3.0" height="11.60" fill="#df7fc2"/>
<rect x="405.00" y="235.50" width="3.0" height="11.60" fill="#b793c4"/>
<rect x="405.00" y="247.00" width="3.0" height="11.60" fill="#a55f40"/>
<rect x="405.00" y="258.50" width="3.0" height="11.60" fill="#e08a2a"/>
<rect x="405.00" y="270.00" width="3.0" height="11.60" fill="#768591"/>
<rect x="405.00" y="281.50" width="3.0" height="11.60" fill="#4a86c5"/>
<rect x="405.00" y="293.00" width="3.0" height="11.60" fill="#1f3b7a"/>
<rect x="405.00" y="304.50" width="3.0" height="11.60" fill="#1b8a6e"/>
<rect x="405.00" y="316.00" width="3.0" height="11.60" fill="#9a4fa6"/>
<rect x="409.00" y="328.90" width="12.17" height="2.9" fill="#f0855e"/>
<rect x="421.07" y="328.90" width="12.17" height="2.9" fill="#df7fc2"/>
<rect x="433.14" y="328.90" width="12.17" height="2.9" fill="#b793c4"/>
<rect x="445.21" y="328.90" width="12.17" height="2.9" fill="#a55f40"/>
<rect x="457.28" y="328.90" width="12.17" height="2.9" fill="#e08a2a"/>
<rect x="469.35" y="328.90" width="12.17" height="2.9" fill="#768591"/>
<rect x="481.42" y="328.90" width="12.17" height="2.9" fill="#4a86c5"/>
<rect x="493.49" y="328.90" width="12.17" height="2.9" fill="#1f3b7a"/>
<rect x="505.56" y="328.90" width="12.17" height="2.9" fill="#1b8a6e"/>
<rect x="411.38" y="211.00" width="7.3" height="0.50" fill="#f0855e"/>
<rect x="423.45" y="206.40" width="7.3" height="4.90" fill="#df7fc2"/>
<rect x="435.52" y="205.40" width="7.3" height="5.90" fill="#b793c4"/>
<rect x="447.59" y="209.80" width="7.3" height="1.50" fill="#a55f40"/>
<rect x="459.66" y="211.00" width="7.3" height="0.50" fill="#e08a2a"/>
<rect x="471.74" y="209.00" width="7.3" height="2.30" fill="#768591"/>
<rect x="483.81" y="205.80" width="7.3" height="5.50" fill="#4a86c5"/>
<rect x="495.88" y="197.90" width="7.3" height="13.40" fill="#1f3b7a"/>
<rect x="507.94" y="204.40" width="7.3" height="6.90" fill="#1b8a6e"/>
<line x1="409.40" y1="196.80" x2="409.40" y2="211.70" stroke="#222" stroke-width="0.7"/>
<line x1="408.20" y1="201.30" x2="409.40" y2="201.30" stroke="#222" stroke-width="0.4"/>
<text transform="translate(407.80,201.30) rotate(-90)" font-size="4.3" fill="#333" text-anchor="middle">2</text>
<line x1="408.20" y1="206.20" x2="409.40" y2="206.20" stroke="#222" stroke-width="0.4"/>
<text transform="translate(407.80,206.20) rotate(-90)" font-size="4.3" fill="#333" text-anchor="middle">1</text>
<line x1="408.20" y1="211.50" x2="409.40" y2="211.50" stroke="#222" stroke-width="0.4"/>
<text transform="translate(407.80,211.50) rotate(-90)" font-size="4.3" fill="#333" text-anchor="middle">0</text>
<rect x="518.40" y="214.80" width="0.40" height="6.9" fill="#f0855e"/>
<rect x="518.40" y="226.30" width="1.50" height="6.9" fill="#df7fc2"/>
<rect x="518.40" y="237.80" width="9.00" height="6.9" fill="#b793c4"/>
<rect x="518.40" y="249.30" width="0.50" height="6.9" fill="#a55f40"/>
<rect x="518.40" y="260.80" width="8.50" height="6.9" fill="#e08a2a"/>
<rect x="518.40" y="272.30" width="4.20" height="6.9" fill="#768591"/>
<rect x="518.40" y="283.80" width="10.10" height="6.9" fill="#4a86c5"/>
<rect x="518.40" y="295.30" width="8.50" height="6.9" fill="#1f3b7a"/>
<rect x="518.40" y="306.80" width="12.50" height="6.9" fill="#1b8a6e"/>
<rect x="518.40" y="318.30" width="15.30" height="6.9" fill="#9a4fa6"/>
<line x1="518.40" y1="327.20" x2="532.40" y2="327.20" stroke="#222" stroke-width="0.7"/>
<line x1="519.40" y1="327.20" x2="519.40" y2="328.40" stroke="#222" stroke-width="0.4"/>
<text transform="translate(520.60,329.00) rotate(-90)" font-size="3.6" fill="#333" text-anchor="end">0</text>
<line x1="522.40" y1="327.20" x2="522.40" y2="328.40" stroke="#222" stroke-width="0.4"/>
<text transform="translate(523.60,329.00) rotate(-90)" font-size="3.6" fill="#333" text-anchor="end">1</text>
<line x1="525.40" y1="327.20" x2="525.40" y2="328.40" stroke="#222" stroke-width="0.4"/>
<text transform="translate(526.60,329.00) rotate(-90)" font-size="3.6" fill="#333" text-anchor="end">2</text>
<line x1="528.40" y1="327.20" x2="528.40" y2="328.40" stroke="#222" stroke-width="0.4"/>
<text transform="translate(529.60,329.00) rotate(-90)" font-size="3.6" fill="#333" text-anchor="end">3</text>
<line x1="531.40" y1="327.20" x2="531.40" y2="328.40" stroke="#222" stroke-width="0.4"/>
<text transform="translate(532.60,329.00) rotate(-90)" font-size="3.6" fill="#333" text-anchor="end">4</text>
<text transform="translate(416.64,333.10) rotate(-90)" font-size="4.1" fill="#000" text-anchor="end">CD4 Naive</text>
<text transform="translate(428.71,333.10) rotate(-90)" font-size="4.1" fill="#000" text-anchor="end">CD4 Proliferating</text>
<text transform="translate(440.78,333.10) rotate(-90)" font-size="4.1" fill="#000" text-anchor="end">CD4 TCM</text>
<text transform="translate(452.85,333.10) rotate(-90)" font-size="4.1" fill="#000" text-anchor="end">CD4 TEM</text>
<text transform="translate(464.92,333.10) rotate(-90)" font-size="4.1" fill="#000" text-anchor="end">CD4 CTL</text>
<text transform="translate(476.99,333.10) rotate(-90)" font-size="4.1" fill="#000" text-anchor="end">CD8 Naive</text>
<text transform="translate(489.06,333.10) rotate(-90)" font-size="4.1" fill="#000" text-anchor="end">CD8 Proliferating</text>
<text transform="translate(501.13,333.10) rotate(-90)" font-size="4.1" fill="#000" text-anchor="end">CD8 TCM</text>
<text transform="translate(513.20,333.10) rotate(-90)" font-size="4.1" fill="#000" text-anchor="end">CD8 TEM</text>
<text x="463.20" y="193.00" font-size="7.3" fill="#000" text-anchor="middle">MIF signaling</text>
<rect x="552.57" y="224.00" width="12.22" height="11.65" fill="#cb181d"/>
<rect x="564.64" y="224.00" width="12.22" height="11.65" fill="#b11218"/>
<rect x="576.71" y="224.00" width="12.22" height="11.65" fill="#f5533b"/>
<rect x="588.78" y="224.00" width="12.22" height="11.65" fill="#ee3d2d"/>
<rect x="600.85" y="224.00" width="12.22" height="11.65" fill="#b31218"/>
<rect x="612.92" y="224.00" width="12.22" height="11.65" fill="#bf151b"/>
<rect x="624.99" y="224.00" width="12.22" height="11.65" fill="#a50f15"/>
<rect x="637.06" y="224.00" width="12.22" height="11.65" fill="#d42121"/>
<rect x="552.57" y="235.50" width="12.22" height="11.65" fill="#f14432"/>
<rect x="564.64" y="235.50" width="12.22" height="11.65" fill="#dd2a25"/>
<rect x="600.85" y="235.50" width="12.22" height="11.65" fill="#e22e27"/>
<rect x="612.92" y="235.50" width="12.22" height="11.65" fill="#e8362a"/>
<rect x="624.99" y="235.50" width="12.22" height="11.65" fill="#d62422"/>
<rect x="637.06" y="235.50" width="12.22" height="11.65" fill="#f5553c"/>
<rect x="552.57" y="258.50" width="12.22" height="11.65" fill="#fef0e8"/>
<rect x="564.64" y="258.50" width="12.22" height="11.65" fill="#f14432"/>
<rect x="600.85" y="258.50" width="12.22" height="11.65" fill="#fee3d6"/>
<rect x="612.92" y="258.50" width="12.22" height="11.65" fill="#fee6da"/>
<rect x="624.99" y="258.50" width="12.22" height="11.65" fill="#fde0d2"/>
<rect x="637.06" y="258.50" width="12.22" height="11.65" fill="#feede4"/>
<rect x="552.57" y="270.00" width="12.22" height="11.65" fill="#ee3a2c"/>
<rect x="564.64" y="270.00" width="12.22" height="11.65" fill="#d21f20"/>
<rect x="576.71" y="270.00" width="12.22" height="11.65" fill="#fff0ea"/>
<rect x="600.85" y="270.00" width="12.22" height="11.65" fill="#d21f20"/>
<rect x="612.92" y="270.00" width="12.22" height="11.65" fill="#dc2924"/>
<rect x="624.99" y="270.00" width="12.22" height="11.65" fill="#cb181d"/>
<rect x="637.06" y="270.00" width="12.22" height="11.65" fill="#ef3f2e"/>
<rect x="552.57" y="281.50" width="12.22" height="11.65" fill="#ef3c2c"/>
<rect x="564.64" y="281.50" width="12.22" height="11.65" fill="#d21f20"/>
<rect x="576.71" y="281.50" width="12.22" height="11.65" fill="#fff0ea"/>
<rect x="600.85" y="281.50" width="12.22" height="11.65" fill="#d01d1f"/>
<rect x="612.92" y="281.50" width="12.22" height="11.65" fill="#d92624"/>
<rect x="624.99" y="281.50" width="12.22" height="11.65" fill="#c8171c"/>
<rect x="637.06" y="281.50" width="12.22" height="11.65" fill="#f14432"/>
<rect x="552.57" y="293.00" width="12.22" height="11.65" fill="#e8362a"/>
<rect x="564.64" y="293.00" width="12.22" height="11.65" fill="#ce1c1e"/>
<rect x="576.71" y="293.00" width="12.22" height="11.65" fill="#fff0ea"/>
<rect x="600.85" y="293.00" width="12.22" height="11.65" fill="#c8171c"/>
<rect x="612.92" y="293.00" width="12.22" height="11.65" fill="#cd1a1e"/>
<rect x="624.99" y="293.00" width="12.22" height="11.65" fill="#c0151b"/>
<rect x="637.06" y="293.00" width="12.22" height="11.65" fill="#ec3b2c"/>
<rect x="552.57" y="304.50" width="12.22" height="11.65" fill="#b51319"/>
<rect x="564.64" y="304.50" width="12.22" height="11.65" fill="#8e0c13"/>
<rect x="576.71" y="304.50" width="12.22" height="11.65" fill="#ef3c2c"/>
<rect x="588.78" y="304.50" width="12.22" height="11.65" fill="#e32f27"/>
<rect x="600.85" y="304.50" width="12.22" height="11.65" fill="#8a0b13"/>
<rect x="612.92" y="304.50" width="12.22" height="11.65" fill="#9b0e14"/>
<rect x="624.99" y="304.50" width="12.22" height="11.65" fill="#6a000d"/>
<rect x="637.06" y="304.50" width="12.22" height="11.65" fill="#b81419"/>
<rect x="552.57" y="316.00" width="12.22" height="11.65" fill="#d01d1f"/>
<rect x="564.64" y="316.00" width="12.22" height="11.65" fill="#b51319"/>
<rect x="576.71" y="316.00" width="12.22" height="11.65" fill="#f5533b"/>
<rect x="588.78" y="316.00" width="12.22" height="11.65" fill="#f1472f"/>
<rect x="600.85" y="316.00" width="12.22" height="11.65" fill="#b81419"/>
<rect x="612.92" y="316.00" width="12.22" height="11.65" fill="#c0151b"/>
<rect x="624.99" y="316.00" width="12.22" height="11.65" fill="#a40f15"/>
<rect x="637.06" y="316.00" width="12.22" height="11.65" fill="#d92624"/>
<rect x="536.40" y="212.50" width="3.0" height="11.60" fill="#f0855e"/>
<rect x="536.40" y="224.00" width="3.0" height="11.60" fill="#df7fc2"/>
<rect x="536.40" y="235.50" width="3.0" height="11.60" fill="#b793c4"/>
<rect x="536.40" y="247.00" width="3.0" height="11.60" fill="#a55f40"/>
<rect x="536.40" y="258.50" width="3.0" height="11.60" fill="#e08a2a"/>
<rect x="536.40" y="270.00" width="3.0" height="11.60" fill="#768591"/>
<rect x="536.40" y="281.50" width="3.0" height="11.60" fill="#4a86c5"/>
<rect x="536.40" y="293.00" width="3.0" height="11.60" fill="#1f3b7a"/>
<rect x="536.40" y="304.50" width="3.0" height="11.60" fill="#1b8a6e"/>
<rect x="536.40" y="316.00" width="3.0" height="11.60" fill="#9a4fa6"/>
<rect x="540.50" y="328.90" width="12.17" height="2.9" fill="#f0855e"/>
<rect x="552.57" y="328.90" width="12.17" height="2.9" fill="#df7fc2"/>
<rect x="564.64" y="328.90" width="12.17" height="2.9" fill="#b793c4"/>
<rect x="576.71" y="328.90" width="12.17" height="2.9" fill="#a55f40"/>
<rect x="588.78" y="328.90" width="12.17" height="2.9" fill="#e08a2a"/>
<rect x="600.85" y="328.90" width="12.17" height="2.9" fill="#768591"/>
<rect x="612.92" y="328.90" width="12.17" height="2.9" fill="#4a86c5"/>
<rect x="624.99" y="328.90" width="12.17" height="2.9" fill="#1f3b7a"/>
<rect x="637.06" y="328.90" width="12.17" height="2.9" fill="#1b8a6e"/>
<rect x="542.88" y="211.00" width="7.3" height="0.50" fill="#f0855e"/>
<rect x="554.96" y="199.10" width="7.3" height="12.20" fill="#df7fc2"/>
<rect x="567.02" y="197.50" width="7.3" height="13.80" fill="#b793c4"/>
<rect x="579.10" y="204.60" width="7.3" height="6.70" fill="#a55f40"/>
<rect x="591.16" y="206.40" width="7.3" height="4.90" fill="#e08a2a"/>
<rect x="603.24" y="198.10" width="7.3" height="13.20" fill="#768591"/>
<rect x="615.30" y="198.50" width="7.3" height="12.80" fill="#4a86c5"/>
<rect x="627.38" y="197.90" width="7.3" height="13.40" fill="#1f3b7a"/>
<rect x="639.44" y="199.30" width="7.3" height="12.00" fill="#1b8a6e"/>
<line x1="540.90" y1="196.80" x2="540.90" y2="211.70" stroke="#222" stroke-width="0.7"/>
<line x1="539.70" y1="198.10" x2="540.90" y2="198.10" stroke="#222" stroke-width="0.4"/>
<text transform="translate(539.30,198.10) rotate(-90)" font-size="4.3" fill="#333" text-anchor="middle">3</text>
<line x1="539.70" y1="202.60" x2="540.90" y2="202.60" stroke="#222" stroke-width="0.4"/>
<text transform="translate(539.30,202.60) rotate(-90)" font-size="4.3" fill="#333" text-anchor="middle">2</text>
<line x1="539.70" y1="207.00" x2="540.90" y2="207.00" stroke="#222" stroke-width="0.4"/>
<text transform="translate(539.30,207.00) rotate(-90)" font-size="4.3" fill="#333" text-anchor="middle">1</text>
<line x1="539.70" y1="211.50" x2="540.90" y2="211.50" stroke="#222" stroke-width="0.4"/>
<text transform="translate(539.30,211.50) rotate(-90)" font-size="4.3" fill="#333" text-anchor="middle">0</text>
<rect x="650.20" y="214.80" width="0.40" height="6.9" fill="#f0855e"/>
<rect x="650.20" y="226.30" width="14.80" height="6.9" fill="#df7fc2"/>
<rect x="650.20" y="237.80" width="10.80" height="6.9" fill="#b793c4"/>
<rect x="650.20" y="249.30" width="0.40" height="6.9" fill="#a55f40"/>
<rect x="650.20" y="260.80" width="7.00" height="6.9" fill="#e08a2a"/>
<rect x="650.20" y="272.30" width="11.80" height="6.9" fill="#768591"/>
<rect x="650.20" y="283.80" width="11.80" height="6.9" fill="#4a86c5"/>
<rect x="650.20" y="295.30" width="12.40" height="6.9" fill="#1f3b7a"/>
<rect x="650.20" y="306.80" width="15.50" height="6.9" fill="#1b8a6e"/>
<rect x="650.20" y="318.30" width="14.80" height="6.9" fill="#9a4fa6"/>
<line x1="650.20" y1="327.20" x2="664.20" y2="327.20" stroke="#222" stroke-width="0.7"/>
<line x1="651.20" y1="327.20" x2="651.20" y2="328.40" stroke="#222" stroke-width="0.4"/>
<text transform="translate(652.40,329.00) rotate(-90)" font-size="3.6" fill="#333" text-anchor="end">0</text>
<line x1="654.20" y1="327.20" x2="654.20" y2="328.40" stroke="#222" stroke-width="0.4"/>
<text transform="translate(655.40,329.00) rotate(-90)" font-size="3.6" fill="#333" text-anchor="end">1</text>
<line x1="657.20" y1="327.20" x2="657.20" y2="328.40" stroke="#222" stroke-width="0.4"/>
<text transform="translate(658.40,329.00) rotate(-90)" font-size="3.6" fill="#333" text-anchor="end">2</text>
<line x1="660.20" y1="327.20" x2="660.20" y2="328.40" stroke="#222" stroke-width="0.4"/>
<text transform="translate(661.40,329.00) rotate(-90)" font-size="3.6" fill="#333" text-anchor="end">3</text>
<line x1="663.20" y1="327.20" x2="663.20" y2="328.40" stroke="#222" stroke-width="0.4"/>
<text transform="translate(664.40,329.00) rotate(-90)" font-size="3.6" fill="#333" text-anchor="end">4</text>
<text transform="translate(548.13,333.10) rotate(-90)" font-size="4.1" fill="#000" text-anchor="end">CD4 Naive</text>
<text transform="translate(560.21,333.10) rotate(-90)" font-size="4.1" fill="#000" text-anchor="end">CD4 Proliferating</text>
<text transform="translate(572.27,333.10) rotate(-90)" font-size="4.1" fill="#000" text-anchor="end">CD4 TCM</text>
<text transform="translate(584.35,333.10) rotate(-90)" font-size="4.1" fill="#000" text-anchor="end">CD4 TEM</text>
<text transform="translate(596.41,333.10) rotate(-90)" font-size="4.1" fill="#000" text-anchor="end">CD4 CTL</text>
<text transform="translate(608.49,333.10) rotate(-90)" font-size="4.1" fill="#000" text-anchor="end">CD8 Naive</text>
<text transform="translate(620.55,333.10) rotate(-90)" font-size="4.1" fill="#000" text-anchor="end">CD8 Proliferating</text>
<text transform="translate(632.62,333.10) rotate(-90)" font-size="4.1" fill="#000" text-anchor="end">CD8 TCM</text>
<text transform="translate(644.69,333.10) rotate(-90)" font-size="4.1" fill="#000" text-anchor="end">CD8 TEM</text>
<text x="595.00" y="193.00" font-size="7.3" fill="#000" text-anchor="middle">MIF signaling</text>
<text transform="translate(403.8,220.40) scale(0.87,1)" font-size="4.7" fill="#111" text-anchor="end">CCR7+macro</text>
<text transform="translate(403.8,231.90) scale(0.87,1)" font-size="4.7" fill="#111" text-anchor="end">CTSK+macro</text>
<text transform="translate(403.8,243.40) scale(0.87,1)" font-size="4.7" fill="#111" text-anchor="end">CXCL10+macro</text>
<text transform="translate(403.8,254.90) scale(0.87,1)" font-size="4.7" fill="#111" text-anchor="end">FOLR2+macro</text>
<text transform="translate(403.8,266.40) scale(0.87,1)" font-size="4.7" fill="#111" text-anchor="end">FTL+macro</text>
<text transform="translate(403.8,277.90) scale(0.87,1)" font-size="4.7" fill="#111" text-anchor="end">IG+macro</text>
<text transform="translate(403.8,289.40) scale(0.87,1)" font-size="4.7" fill="#111" text-anchor="end">IL32+macro</text>
<text transform="translate(403.8,300.90) scale(0.87,1)" font-size="4.7" fill="#111" text-anchor="end">monocyte</text>
<text transform="translate(403.8,312.40) scale(0.87,1)" font-size="4.7" fill="#111" text-anchor="end">SPP1+macro</text>
<text transform="translate(403.8,323.90) scale(0.87,1)" font-size="4.7" fill="#111" text-anchor="end">STMN1+macro</text>
<text transform="translate(367.8,260.10) rotate(-90)" font-size="7.2" fill="#000" text-anchor="middle">Sources (Sender)</text>
<text transform="translate(673.30,263.10) rotate(-90)" font-size="7.2" fill="#000" text-anchor="middle">Communication Prob.</text>
<rect x="675.10" y="255.90" width="3" height="28.50" fill="url(#reds)"/>
<text x="679.20" y="259.00" font-size="3.8" fill="#333">0.4</text>
<text x="679.20" y="267.60" font-size="3.8" fill="#333">0.3</text>
<text x="679.20" y="276.00" font-size="3.8" fill="#333">0.2</text>
<text x="679.20" y="284.80" font-size="3.8" fill="#333">0.1</text>
<rect x="409.00" y="412.20" width="12.22" height="11.65" fill="#fde0d2"/>
<rect x="421.07" y="412.20" width="12.22" height="11.65" fill="#fcc8b1"/>
<rect x="433.14" y="412.20" width="12.22" height="11.65" fill="#fcb89c"/>
<rect x="445.21" y="412.20" width="12.22" height="11.65" fill="#fdd3bf"/>
<rect x="469.35" y="412.20" width="12.22" height="11.65" fill="#fcc5ab"/>
<rect x="481.42" y="412.20" width="12.22" height="11.65" fill="#fee9df"/>
<rect x="493.49" y="412.20" width="12.22" height="11.65" fill="#fcab8f"/>
<rect x="505.56" y="412.20" width="12.22" height="11.65" fill="#fdd9c6"/>
<rect x="409.00" y="423.70" width="12.22" height="11.65" fill="#fb6d4d"/>
<rect x="421.07" y="423.70" width="12.22" height="11.65" fill="#d52221"/>
<rect x="433.14" y="423.70" width="12.22" height="11.65" fill="#a50f15"/>
<rect x="445.21" y="423.70" width="12.22" height="11.65" fill="#e53229"/>
<rect x="469.35" y="423.70" width="12.22" height="11.65" fill="#c4161c"/>
<rect x="481.42" y="423.70" width="12.22" height="11.65" fill="#fcaa8d"/>
<rect x="493.49" y="423.70" width="12.22" height="11.65" fill="#67000d"/>
<rect x="505.56" y="423.70" width="12.22" height="11.65" fill="#f5533b"/>
<rect x="409.00" y="435.20" width="12.22" height="11.65" fill="#fdd9c6"/>
<rect x="421.07" y="435.20" width="12.22" height="11.65" fill="#fcbba0"/>
<rect x="433.14" y="435.20" width="12.22" height="11.65" fill="#fca588"/>
<rect x="445.21" y="435.20" width="12.22" height="11.65" fill="#fcc8b1"/>
<rect x="469.35" y="435.20" width="12.22" height="11.65" fill="#fcb699"/>
<rect x="481.42" y="435.20" width="12.22" height="11.65" fill="#fee5d9"/>
<rect x="493.49" y="435.20" width="12.22" height="11.65" fill="#fc9070"/>
<rect x="505.56" y="435.20" width="12.22" height="11.65" fill="#fcccb5"/>
<rect x="409.00" y="458.20" width="12.22" height="11.65" fill="#fee9df"/>
<rect x="421.07" y="458.20" width="12.22" height="11.65" fill="#fde2d4"/>
<rect x="433.14" y="458.20" width="12.22" height="11.65" fill="#fdd7c4"/>
<rect x="445.21" y="458.20" width="12.22" height="11.65" fill="#fde4d8"/>
<rect x="469.35" y="458.20" width="12.22" height="11.65" fill="#fddac8"/>
<rect x="481.42" y="458.20" width="12.22" height="11.65" fill="#fff1eb"/>
<rect x="493.49" y="458.20" width="12.22" height="11.65" fill="#fcc9b2"/>
<rect x="505.56" y="458.20" width="12.22" height="11.65" fill="#fde1d4"/>
<rect x="409.00" y="469.70" width="12.22" height="11.65" fill="#fee7dc"/>
<rect x="421.07" y="469.70" width="12.22" height="11.65" fill="#fddccb"/>
<rect x="433.14" y="469.70" width="12.22" height="11.65" fill="#fdd3bf"/>
<rect x="445.21" y="469.70" width="12.22" height="11.65" fill="#fde1d4"/>
<rect x="469.35" y="469.70" width="12.22" height="11.65" fill="#fdd5c1"/>
<rect x="481.42" y="469.70" width="12.22" height="11.65" fill="#feefe8"/>
<rect x="493.49" y="469.70" width="12.22" height="11.65" fill="#fcc5ac"/>
<rect x="505.56" y="469.70" width="12.22" height="11.65" fill="#fddecf"/>
<rect x="409.00" y="481.20" width="12.22" height="11.65" fill="#fddccb"/>
<rect x="421.07" y="481.20" width="12.22" height="11.65" fill="#fcc2a8"/>
<rect x="433.14" y="481.20" width="12.22" height="11.65" fill="#fcae92"/>
<rect x="445.21" y="481.20" width="12.22" height="11.65" fill="#fccbb4"/>
<rect x="469.35" y="481.20" width="12.22" height="11.65" fill="#fcbda2"/>
<rect x="481.42" y="481.20" width="12.22" height="11.65" fill="#fee7dc"/>
<rect x="493.49" y="481.20" width="12.22" height="11.65" fill="#fc9b7c"/>
<rect x="505.56" y="481.20" width="12.22" height="11.65" fill="#fdd4c0"/>
<rect x="409.00" y="492.70" width="12.22" height="11.65" fill="#fc8767"/>
<rect x="421.07" y="492.70" width="12.22" height="11.65" fill="#f24a33"/>
<rect x="433.14" y="492.70" width="12.22" height="11.65" fill="#d52221"/>
<rect x="445.21" y="492.70" width="12.22" height="11.65" fill="#f65a3f"/>
<rect x="469.35" y="492.70" width="12.22" height="11.65" fill="#ee3d2d"/>
<rect x="481.42" y="492.70" width="12.22" height="11.65" fill="#fcbea4"/>
<rect x="493.49" y="492.70" width="12.22" height="11.65" fill="#b71419"/>
<rect x="505.56" y="492.70" width="12.22" height="11.65" fill="#fb6e4e"/>
<rect x="409.00" y="504.20" width="12.22" height="11.65" fill="#fb7252"/>
<rect x="421.07" y="504.20" width="12.22" height="11.65" fill="#e53229"/>
<rect x="433.14" y="504.20" width="12.22" height="11.65" fill="#c4161c"/>
<rect x="445.21" y="504.20" width="12.22" height="11.65" fill="#f14432"/>
<rect x="469.35" y="504.20" width="12.22" height="11.65" fill="#d92624"/>
<rect x="481.42" y="504.20" width="12.22" height="11.65" fill="#fcb89c"/>
<rect x="493.49" y="504.20" width="12.22" height="11.65" fill="#900c13"/>
<rect x="505.56" y="504.20" width="12.22" height="11.65" fill="#f85d42"/>
<rect x="405.00" y="400.70" width="3.0" height="11.60" fill="#f0855e"/>
<rect x="405.00" y="412.20" width="3.0" height="11.60" fill="#df7fc2"/>
<rect x="405.00" y="423.70" width="3.0" height="11.60" fill="#b793c4"/>
<rect x="405.00" y="435.20" width="3.0" height="11.60" fill="#a55f40"/>
<rect x="405.00" y="446.70" width="3.0" height="11.60" fill="#e08a2a"/>
<rect x="405.00" y="458.20" width="3.0" height="11.60" fill="#768591"/>
<rect x="405.00" y="469.70" width="3.0" height="11.60" fill="#4a86c5"/>
<rect x="405.00" y="481.20" width="3.0" height="11.60" fill="#1f3b7a"/>
<rect x="405.00" y="492.70" width="3.0" height="11.60" fill="#1b8a6e"/>
<rect x="405.00" y="504.20" width="3.0" height="11.60" fill="#9a4fa6"/>
<rect x="409.00" y="517.10" width="12.17" height="2.9" fill="#f0855e"/>
<rect x="421.07" y="517.10" width="12.17" height="2.9" fill="#df7fc2"/>
<rect x="433.14" y="517.10" width="12.17" height="2.9" fill="#b793c4"/>
<rect x="445.21" y="517.10" width="12.17" height="2.9" fill="#a55f40"/>
<rect x="457.28" y="517.10" width="12.17" height="2.9" fill="#e08a2a"/>
<rect x="469.35" y="517.10" width="12.17" height="2.9" fill="#768591"/>
<rect x="481.42" y="517.10" width="12.17" height="2.9" fill="#4a86c5"/>
<rect x="493.49" y="517.10" width="12.17" height="2.9" fill="#1f3b7a"/>
<rect x="505.56" y="517.10" width="12.17" height="2.9" fill="#1b8a6e"/>
<rect x="411.38" y="392.20" width="7.3" height="7.30" fill="#f0855e"/>
<rect x="423.45" y="389.10" width="7.3" height="10.40" fill="#df7fc2"/>
<rect x="435.52" y="387.10" width="7.3" height="12.40" fill="#b793c4"/>
<rect x="447.59" y="390.10" width="7.3" height="9.40" fill="#a55f40"/>
<rect x="459.66" y="399.20" width="7.3" height="0.50" fill="#e08a2a"/>
<rect x="471.74" y="388.30" width="7.3" height="11.20" fill="#768591"/>
<rect x="483.81" y="395.00" width="7.3" height="4.50" fill="#4a86c5"/>
<rect x="495.88" y="386.10" width="7.3" height="13.40" fill="#1f3b7a"/>
<rect x="507.94" y="391.10" width="7.3" height="8.40" fill="#1b8a6e"/>
<line x1="409.40" y1="385.00" x2="409.40" y2="399.90" stroke="#222" stroke-width="0.7"/>
<line x1="408.20" y1="386.10" x2="409.40" y2="386.10" stroke="#222" stroke-width="0.4"/>
<text x="406.80" y="387.65" font-size="4.3" fill="#333" text-anchor="end">0.4</text>
<line x1="408.20" y1="392.60" x2="409.40" y2="392.60" stroke="#222" stroke-width="0.4"/>
<text x="406.80" y="394.15" font-size="4.3" fill="#333" text-anchor="end">0.2</text>
<line x1="408.20" y1="399.50" x2="409.40" y2="399.50" stroke="#222" stroke-width="0.4"/>
<text x="406.80" y="401.05" font-size="4.3" fill="#333" text-anchor="end">0</text>
<rect x="518.40" y="403.00" width="0.50" height="6.9" fill="#f0855e"/>
<rect x="518.40" y="414.50" width="5.40" height="6.9" fill="#df7fc2"/>
<rect x="518.40" y="426.00" width="14.40" height="6.9" fill="#b793c4"/>
<rect x="518.40" y="437.50" width="6.60" height="6.9" fill="#a55f40"/>
<rect x="518.40" y="449.00" width="0.50" height="6.9" fill="#e08a2a"/>
<rect x="518.40" y="460.50" width="4.50" height="6.9" fill="#768591"/>
<rect x="518.40" y="472.00" width="4.50" height="6.9" fill="#4a86c5"/>
<rect x="518.40" y="483.50" width="6.10" height="6.9" fill="#1f3b7a"/>
<rect x="518.40" y="495.00" width="12.00" height="6.9" fill="#1b8a6e"/>
<rect x="518.40" y="506.50" width="13.20" height="6.9" fill="#9a4fa6"/>
<line x1="518.40" y1="515.40" x2="532.40" y2="515.40" stroke="#222" stroke-width="0.7"/>
<line x1="519.40" y1="515.40" x2="519.40" y2="516.60" stroke="#222" stroke-width="0.4"/>
<text transform="translate(520.60,517.20) rotate(-90)" font-size="3.6" fill="#333" text-anchor="end">0</text>
<line x1="523.40" y1="515.40" x2="523.40" y2="516.60" stroke="#222" stroke-width="0.4"/>
<text transform="translate(524.60,517.20) rotate(-90)" font-size="3.6" fill="#333" text-anchor="end">0.2</text>
<line x1="527.40" y1="515.40" x2="527.40" y2="516.60" stroke="#222" stroke-width="0.4"/>
<text transform="translate(528.60,517.20) rotate(-90)" font-size="3.6" fill="#333" text-anchor="end">0.4</text>
<line x1="531.40" y1="515.40" x2="531.40" y2="516.60" stroke="#222" stroke-width="0.4"/>
<text transform="translate(532.60,517.20) rotate(-90)" font-size="3.6" fill="#333" text-anchor="end">0.6</text>
<text transform="translate(416.64,521.30) rotate(-90)" font-size="4.1" fill="#000" text-anchor="end">CD4 Naive</text>
<text transform="translate(428.71,521.30) rotate(-90)" font-size="4.1" fill="#000" text-anchor="end">CD4 Proliferating</text>
<text transform="translate(440.78,521.30) rotate(-90)" font-size="4.1" fill="#000" text-anchor="end">CD4 TCM</text>
<text transform="translate(452.85,521.30) rotate(-90)" font-size="4.1" fill="#000" text-anchor="end">CD4 TEM</text>
<text transform="translate(464.92,521.30) rotate(-90)" font-size="4.1" fill="#000" text-anchor="end">CD4 CTL</text>
<text transform="translate(476.99,521.30) rotate(-90)" font-size="4.1" fill="#000" text-anchor="end">CD8 Naive</text>
<text transform="translate(489.06,521.30) rotate(-90)" font-size="4.1" fill="#000" text-anchor="end">CD8 Proliferating</text>
<text transform="translate(501.13,521.30) rotate(-90)" font-size="4.1" fill="#000" text-anchor="end">CD8 TCM</text>
<text transform="translate(513.20,521.30) rotate(-90)" font-size="4.1" fill="#000" text-anchor="end">CD8 TEM</text>
<text x="463.50" y="381.00" font-size="7.3" fill="#000" text-anchor="middle">FN1 signaling</text>
<rect x="552.57" y="400.70" width="12.22" height="11.65" fill="#fef0ea"/>
<rect x="564.64" y="400.70" width="12.22" height="11.65" fill="#fef0ea"/>
<rect x="600.85" y="400.70" width="12.22" height="11.65" fill="#fef0ea"/>
<rect x="612.92" y="400.70" width="12.22" height="11.65" fill="#fef0ea"/>
<rect x="624.99" y="400.70" width="12.22" height="11.65" fill="#fef0ea"/>
<rect x="552.57" y="423.70" width="12.22" height="11.65" fill="#ef3c2c"/>
<rect x="564.64" y="423.70" width="12.22" height="11.65" fill="#e32f27"/>
<rect x="576.71" y="423.70" width="12.22" height="11.65" fill="#fc8060"/>
<rect x="588.78" y="423.70" width="12.22" height="11.65" fill="#fb7555"/>
<rect x="600.85" y="423.70" width="12.22" height="11.65" fill="#d01d1f"/>
<rect x="612.92" y="423.70" width="12.22" height="11.65" fill="#e23028"/>
<rect x="624.99" y="423.70" width="12.22" height="11.65" fill="#d42121"/>
<rect x="637.06" y="423.70" width="12.22" height="11.65" fill="#fb7757"/>
<rect x="552.57" y="435.20" width="12.22" height="11.65" fill="#d01d1f"/>
<rect x="564.64" y="435.20" width="12.22" height="11.65" fill="#c4161c"/>
<rect x="576.71" y="435.20" width="12.22" height="11.65" fill="#fb6a4a"/>
<rect x="588.78" y="435.20" width="12.22" height="11.65" fill="#f85d42"/>
<rect x="600.85" y="435.20" width="12.22" height="11.65" fill="#b11218"/>
<rect x="612.92" y="435.20" width="12.22" height="11.65" fill="#c4161c"/>
<rect x="624.99" y="435.20" width="12.22" height="11.65" fill="#b51319"/>
<rect x="637.06" y="435.20" width="12.22" height="11.65" fill="#f85d42"/>
<rect x="552.57" y="446.70" width="12.22" height="11.65" fill="#f14432"/>
<rect x="564.64" y="446.70" width="12.22" height="11.65" fill="#e8362a"/>
<rect x="576.71" y="446.70" width="12.22" height="11.65" fill="#fc8565"/>
<rect x="588.78" y="446.70" width="12.22" height="11.65" fill="#fb7a5a"/>
<rect x="600.85" y="446.70" width="12.22" height="11.65" fill="#dc2a25"/>
<rect x="612.92" y="446.70" width="12.22" height="11.65" fill="#ea372a"/>
<rect x="624.99" y="446.70" width="12.22" height="11.65" fill="#e03027"/>
<rect x="637.06" y="446.70" width="12.22" height="11.65" fill="#fb7a5a"/>
<rect x="552.57" y="458.20" width="12.22" height="11.65" fill="#fc8a6a"/>
<rect x="564.64" y="458.20" width="12.22" height="11.65" fill="#fc8262"/>
<rect x="576.71" y="458.20" width="12.22" height="11.65" fill="#fcb196"/>
<rect x="588.78" y="458.20" width="12.22" height="11.65" fill="#fcaa8d"/>
<rect x="600.85" y="458.20" width="12.22" height="11.65" fill="#fb7050"/>
<rect x="612.92" y="458.20" width="12.22" height="11.65" fill="#fc7f5f"/>
<rect x="624.99" y="458.20" width="12.22" height="11.65" fill="#fb7555"/>
<rect x="637.06" y="458.20" width="12.22" height="11.65" fill="#fcae92"/>
<rect x="552.57" y="469.70" width="12.22" height="11.65" fill="#fb6a4a"/>
<rect x="564.64" y="469.70" width="12.22" height="11.65" fill="#f85d42"/>
<rect x="576.71" y="469.70" width="12.22" height="11.65" fill="#fc9272"/>
<rect x="588.78" y="469.70" width="12.22" height="11.65" fill="#fc8a6a"/>
<rect x="600.85" y="469.70" width="12.22" height="11.65" fill="#f14432"/>
<rect x="612.92" y="469.70" width="12.22" height="11.65" fill="#f5523a"/>
<rect x="624.99" y="469.70" width="12.22" height="11.65" fill="#f24a33"/>
<rect x="637.06" y="469.70" width="12.22" height="11.65" fill="#fc8a6a"/>
<rect x="552.57" y="481.20" width="12.22" height="11.65" fill="#fb6a4a"/>
<rect x="564.64" y="481.20" width="12.22" height="11.65" fill="#f85d42"/>
<rect x="576.71" y="481.20" width="12.22" height="11.65" fill="#fc9272"/>
<rect x="588.78" y="481.20" width="12.22" height="11.65" fill="#fc8b6b"/>
<rect x="600.85" y="481.20" width="12.22" height="11.65" fill="#f24a33"/>
<rect x="612.92" y="481.20" width="12.22" height="11.65" fill="#f5523a"/>
<rect x="624.99" y="481.20" width="12.22" height="11.65" fill="#f14432"/>
<rect x="637.06" y="481.20" width="12.22" height="11.65" fill="#fc8b6b"/>
<rect x="552.57" y="492.70" width="12.22" height="11.65" fill="#b11218"/>
<rect x="564.64" y="492.70" width="12.22" height="11.65" fill="#9a0e14"/>
<rect x="576.71" y="492.70" width="12.22" height="11.65" fill="#f5523a"/>
<rect x="588.78" y="492.70" width="12.22" height="11.65" fill="#ef3c2c"/>
<rect x="600.85" y="492.70" width="12.22" height="11.65" fill="#67000d"/>
<rect x="612.92" y="492.70" width="12.22" height="11.65" fill="#940d13"/>
<rect x="624.99" y="492.70" width="12.22" height="11.65" fill="#6a000d"/>
<rect x="637.06" y="492.70" width="12.22" height="11.65" fill="#ef3f2e"/>
<rect x="552.57" y="504.20" width="12.22" height="11.65" fill="#f24a33"/>
<rect x="564.64" y="504.20" width="12.22" height="11.65" fill="#ec3b2c"/>
<rect x="576.71" y="504.20" width="12.22" height="11.65" fill="#fc8969"/>
<rect x="588.78" y="504.20" width="12.22" height="11.65" fill="#fb7c5c"/>
<rect x="600.85" y="504.20" width="12.22" height="11.65" fill="#e32f27"/>
<rect x="612.92" y="504.20" width="12.22" height="11.65" fill="#ef3c2c"/>
<rect x="624.99" y="504.20" width="12.22" height="11.65" fill="#e8362a"/>
<rect x="637.06" y="504.20" width="12.22" height="11.65" fill="#fc8464"/>
<rect x="536.40" y="400.70" width="3.0" height="11.60" fill="#f0855e"/>
<rect x="536.40" y="412.20" width="3.0" height="11.60" fill="#df7fc2"/>
<rect x="536.40" y="423.70" width="3.0" height="11.60" fill="#b793c4"/>
<rect x="536.40" y="435.20" width="3.0" height="11.60" fill="#a55f40"/>
<rect x="536.40" y="446.70" width="3.0" height="11.60" fill="#e08a2a"/>
<rect x="536.40" y="458.20" width="3.0" height="11.60" fill="#768591"/>
<rect x="536.40" y="469.70" width="3.0" height="11.60" fill="#4a86c5"/>
<rect x="536.40" y="481.20" width="3.0" height="11.60" fill="#1f3b7a"/>
<rect x="536.40" y="492.70" width="3.0" height="11.60" fill="#1b8a6e"/>
<rect x="536.40" y="504.20" width="3.0" height="11.60" fill="#9a4fa6"/>
<rect x="540.50" y="517.10" width="12.17" height="2.9" fill="#f0855e"/>
<rect x="552.57" y="517.10" width="12.17" height="2.9" fill="#df7fc2"/>
<rect x="564.64" y="517.10" width="12.17" height="2.9" fill="#b793c4"/>
<rect x="576.71" y="517.10" width="12.17" height="2.9" fill="#a55f40"/>
<rect x="588.78" y="517.10" width="12.17" height="2.9" fill="#e08a2a"/>
<rect x="600.85" y="517.10" width="12.17" height="2.9" fill="#768591"/>
<rect x="612.92" y="517.10" width="12.17" height="2.9" fill="#4a86c5"/>
<rect x="624.99" y="517.10" width="12.17" height="2.9" fill="#1f3b7a"/>
<rect x="637.06" y="517.10" width="12.17" height="2.9" fill="#1b8a6e"/>
<rect x="542.88" y="399.20" width="7.3" height="0.50" fill="#f0855e"/>
<rect x="554.96" y="387.70" width="7.3" height="11.80" fill="#df7fc2"/>
<rect x="567.02" y="387.10" width="7.3" height="12.40" fill="#b793c4"/>
<rect x="579.10" y="391.30" width="7.3" height="8.20" fill="#a55f40"/>
<rect x="591.16" y="390.90" width="7.3" height="8.60" fill="#e08a2a"/>
<rect x="603.24" y="386.10" width="7.3" height="13.40" fill="#768591"/>
<rect x="615.30" y="387.10" width="7.3" height="12.40" fill="#4a86c5"/>
<rect x="627.38" y="386.10" width="7.3" height="13.40" fill="#1f3b7a"/>
<rect x="639.44" y="391.30" width="7.3" height="8.20" fill="#1b8a6e"/>
<line x1="540.90" y1="385.00" x2="540.90" y2="399.90" stroke="#222" stroke-width="0.7"/>
<line x1="539.70" y1="385.80" x2="540.90" y2="385.80" stroke="#222" stroke-width="0.4"/>
<text x="538.30" y="387.35" font-size="4.3" fill="#333" text-anchor="end">0.25</text>
<line x1="539.70" y1="388.50" x2="540.90" y2="388.50" stroke="#222" stroke-width="0.4"/>
<text x="538.30" y="390.05" font-size="4.3" fill="#333" text-anchor="end">0.2</text>
<line x1="539.70" y1="391.20" x2="540.90" y2="391.20" stroke="#222" stroke-width="0.4"/>
<text x="538.30" y="392.75" font-size="4.3" fill="#333" text-anchor="end">0.15</text>
<line x1="539.70" y1="393.90" x2="540.90" y2="393.90" stroke="#222" stroke-width="0.4"/>
<text x="538.30" y="395.45" font-size="4.3" fill="#333" text-anchor="end">0.1</text>
<line x1="539.70" y1="396.60" x2="540.90" y2="396.60" stroke="#222" stroke-width="0.4"/>
<text x="538.30" y="398.15" font-size="4.3" fill="#333" text-anchor="end">0.05</text>
<line x1="539.70" y1="399.30" x2="540.90" y2="399.30" stroke="#222" stroke-width="0.4"/>
<text x="538.30" y="400.85" font-size="4.3" fill="#333" text-anchor="end">0</text>
<rect x="650.20" y="403.00" width="0.50" height="6.9" fill="#f0855e"/>
<rect x="650.20" y="414.50" width="0.50" height="6.9" fill="#df7fc2"/>
<rect x="650.20" y="426.00" width="10.10" height="6.9" fill="#b793c4"/>
<rect x="650.20" y="437.50" width="11.80" height="6.9" fill="#a55f40"/>
<rect x="650.20" y="449.00" width="9.40" height="6.9" fill="#e08a2a"/>
<rect x="650.20" y="460.50" width="6.60" height="6.9" fill="#768591"/>
<rect x="650.20" y="472.00" width="7.70" height="6.9" fill="#4a86c5"/>
<rect x="650.20" y="483.50" width="7.70" height="6.9" fill="#1f3b7a"/>
<rect x="650.20" y="495.00" width="13.60" height="6.9" fill="#1b8a6e"/>
<rect x="650.20" y="506.50" width="9.40" height="6.9" fill="#9a4fa6"/>
<line x1="650.20" y1="515.40" x2="664.20" y2="515.40" stroke="#222" stroke-width="0.7"/>
<line x1="651.20" y1="515.40" x2="651.20" y2="516.60" stroke="#222" stroke-width="0.4"/>
<text transform="translate(652.40,517.20) rotate(-90)" font-size="3.6" fill="#333" text-anchor="end">0</text>
<line x1="657.20" y1="515.40" x2="657.20" y2="516.60" stroke="#222" stroke-width="0.4"/>
<text transform="translate(658.40,517.20) rotate(-90)" font-size="3.6" fill="#333" text-anchor="end">0.5</text>
<line x1="663.20" y1="515.40" x2="663.20" y2="516.60" stroke="#222" stroke-width="0.4"/>
<text transform="translate(664.40,517.20) rotate(-90)" font-size="3.6" fill="#333" text-anchor="end">1</text>
<text transform="translate(548.13,521.30) rotate(-90)" font-size="4.1" fill="#000" text-anchor="end">CD4 Naive</text>
<text transform="translate(560.21,521.30) rotate(-90)" font-size="4.1" fill="#000" text-anchor="end">CD4 Proliferating</text>
<text transform="translate(572.27,521.30) rotate(-90)" font-size="4.1" fill="#000" text-anchor="end">CD4 TCM</text>
<text transform="translate(584.35,521.30) rotate(-90)" font-size="4.1" fill="#000" text-anchor="end">CD4 TEM</text>
<text transform="translate(596.41,521.30) rotate(-90)" font-size="4.1" fill="#000" text-anchor="end">CD4 CTL</text>
<text transform="translate(608.49,521.30) rotate(-90)" font-size="4.1" fill="#000" text-anchor="end">CD8 Naive</text>
<text transform="translate(620.55,521.30) rotate(-90)" font-size="4.1" fill="#000" text-anchor="end">CD8 Proliferating</text>
<text transform="translate(632.62,521.30) rotate(-90)" font-size="4.1" fill="#000" text-anchor="end">CD8 TCM</text>
<text transform="translate(644.69,521.30) rotate(-90)" font-size="4.1" fill="#000" text-anchor="end">CD8 TEM</text>
<text x="594.40" y="381.00" font-size="7.3" fill="#000" text-anchor="middle">FN1 signaling</text>
<text transform="translate(403.8,408.60) scale(0.87,1)" font-size="4.7" fill="#111" text-anchor="end">CCR7+macro</text>
<text transform="translate(403.8,420.10) scale(0.87,1)" font-size="4.7" fill="#111" text-anchor="end">CTSK+macro</text>
<text transform="translate(403.8,431.60) scale(0.87,1)" font-size="4.7" fill="#111" text-anchor="end">CXCL10+macro</text>
<text transform="translate(403.8,443.10) scale(0.87,1)" font-size="4.7" fill="#111" text-anchor="end">FOLR2+macro</text>
<text transform="translate(403.8,454.60) scale(0.87,1)" font-size="4.7" fill="#111" text-anchor="end">FTL+macro</text>
<text transform="translate(403.8,466.10) scale(0.87,1)" font-size="4.7" fill="#111" text-anchor="end">IG+macro</text>
<text transform="translate(403.8,477.60) scale(0.87,1)" font-size="4.7" fill="#111" text-anchor="end">IL32+macro</text>
<text transform="translate(403.8,489.10) scale(0.87,1)" font-size="4.7" fill="#111" text-anchor="end">monocyte</text>
<text transform="translate(403.8,500.60) scale(0.87,1)" font-size="4.7" fill="#111" text-anchor="end">SPP1+macro</text>
<text transform="translate(403.8,512.10) scale(0.87,1)" font-size="4.7" fill="#111" text-anchor="end">STMN1+macro</text>
<text transform="translate(367.8,448.30) rotate(-90)" font-size="7.2" fill="#000" text-anchor="middle">Sources (Sender)</text>
<text transform="translate(670.60,453.10) rotate(-90)" font-size="7.2" fill="#000" text-anchor="middle">Communication Prob.</text>
<rect x="672.80" y="441.90" width="3" height="31.70" fill="url(#reds)"/>
<text x="676.90" y="444.80" font-size="3.8" fill="#333">0.1</text>
<text x="676.90" y="450.80" font-size="3.8" fill="#333">0.08</text>
<text x="676.90" y="456.80" font-size="3.8" fill="#333">0.06</text>
<text x="676.90" y="462.80" font-size="3.8" fill="#333">0.04</text>
<text x="676.90" y="468.80" font-size="3.8" fill="#333">0.02</text>
<text x="676.90" y="473.80" font-size="3.8" fill="#333">0</text>
</svg></body></html>
